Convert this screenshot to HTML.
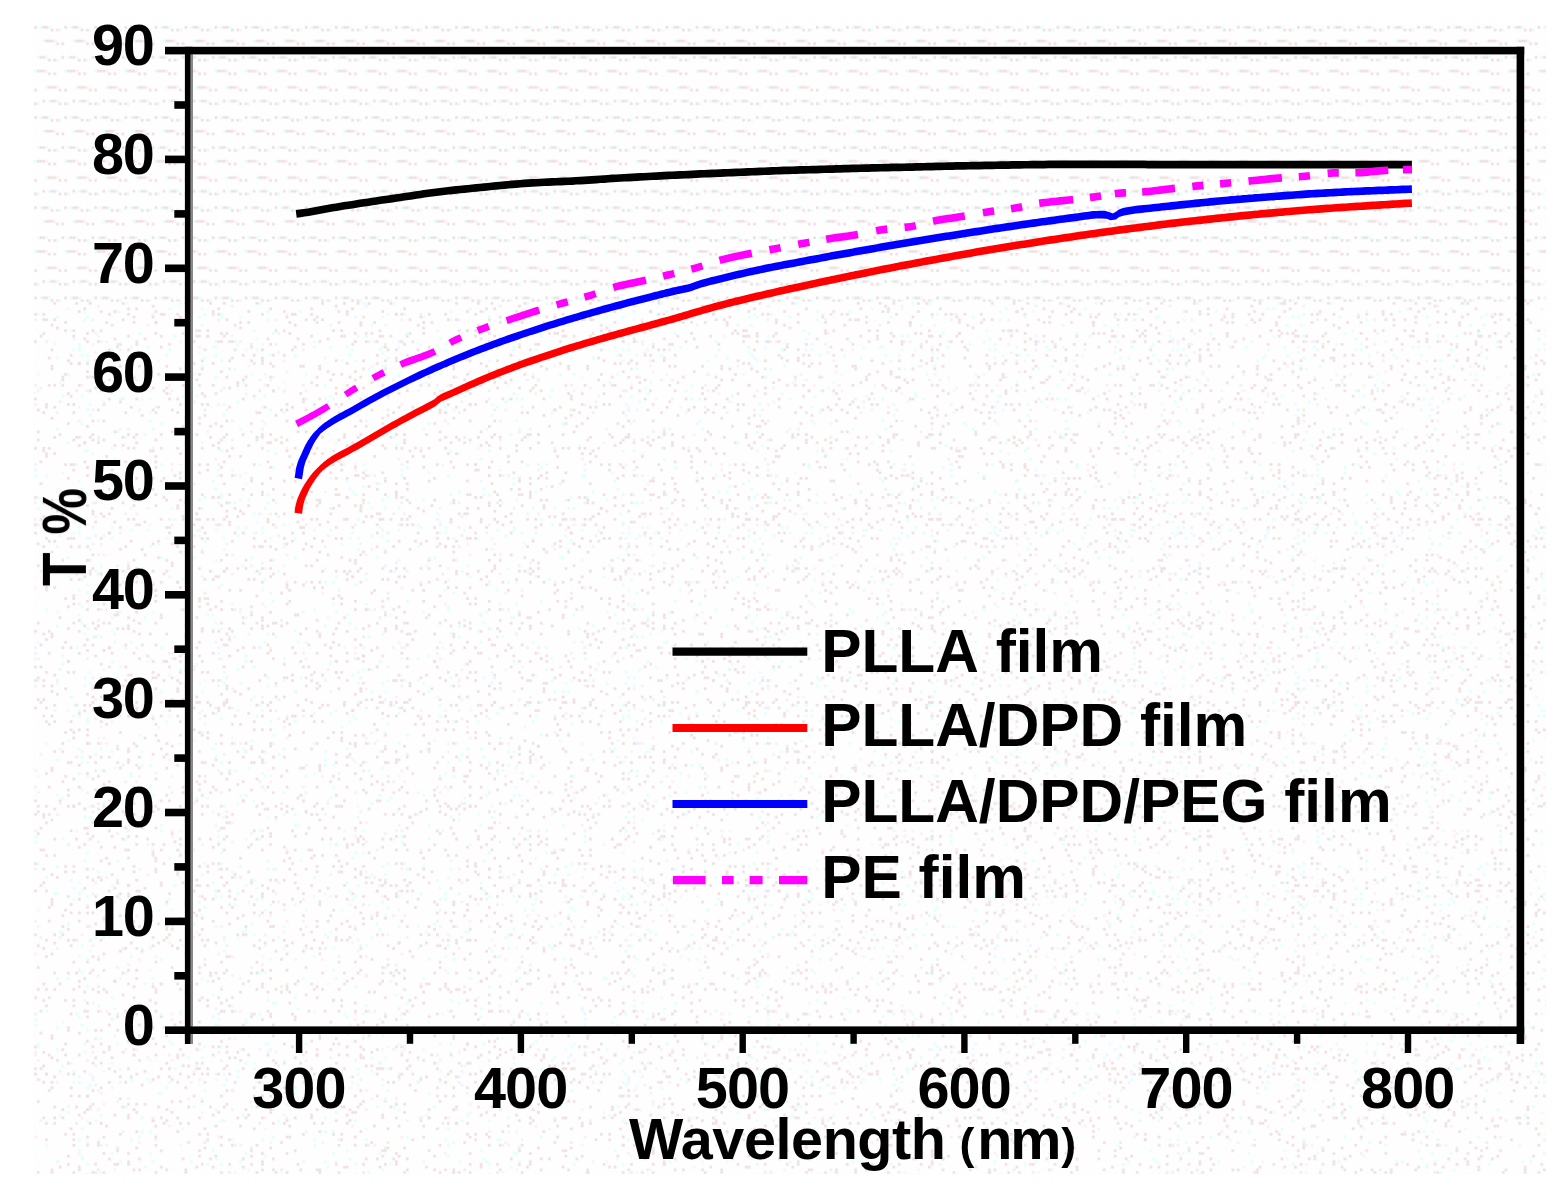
<!DOCTYPE html>
<html lang="en"><head><meta charset="utf-8"><title>Transmittance of PLLA films</title>
<style>html,body{margin:0;padding:0;background:#fff}body{width:1558px;height:1195px;overflow:hidden}svg{display:block}text{font-family:"Liberation Sans",Arial,Helvetica,sans-serif;font-weight:700;fill:#000}</style></head><body>
<svg width="1558" height="1195" viewBox="0 0 1558 1195">
<defs>
<pattern id="ditherA" width="183.131" height="183.131" patternUnits="userSpaceOnUse" x="34.2" y="23.2"><rect x="41.00" y="0.00" width="2.73" height="2.73" fill="#e6f4de"/><rect x="54.67" y="0.00" width="2.73" height="2.73" fill="#efe0e0"/><rect x="65.60" y="0.00" width="2.73" height="2.73" fill="#efe0e0"/><rect x="128.47" y="0.00" width="2.73" height="2.73" fill="#efe0e0"/><rect x="133.93" y="2.73" width="2.73" height="2.73" fill="#ffeeee"/><rect x="180.40" y="2.73" width="2.73" height="2.73" fill="#efe0e0"/><rect x="35.53" y="5.47" width="2.73" height="2.73" fill="#efe0e0"/><rect x="46.47" y="5.47" width="2.73" height="2.73" fill="#e0ffff"/><rect x="147.60" y="5.47" width="2.73" height="2.73" fill="#e0ffff"/><rect x="169.46" y="5.47" width="2.73" height="2.73" fill="#efe0e0"/><rect x="87.47" y="8.20" width="2.73" height="2.73" fill="#f0f0ff"/><rect x="101.13" y="8.20" width="2.73" height="2.73" fill="#efe0e0"/><rect x="106.60" y="8.20" width="2.73" height="2.73" fill="#e0ffff"/><rect x="114.80" y="8.20" width="2.73" height="2.73" fill="#e0ffff"/><rect x="142.13" y="8.20" width="2.73" height="2.73" fill="#efe0e0"/><rect x="84.73" y="10.93" width="2.73" height="2.73" fill="#efe0e0"/><rect x="0.00" y="13.67" width="2.73" height="2.73" fill="#ffeeee"/><rect x="68.33" y="13.67" width="2.73" height="2.73" fill="#efe0e0"/><rect x="10.93" y="16.40" width="2.73" height="2.73" fill="#efe0e0"/><rect x="43.73" y="16.40" width="2.73" height="2.73" fill="#e0ffff"/><rect x="95.67" y="16.40" width="2.73" height="2.73" fill="#e0ffff"/><rect x="120.27" y="16.40" width="2.73" height="2.73" fill="#f0f0ff"/><rect x="51.93" y="19.13" width="2.73" height="2.73" fill="#e0ffff"/><rect x="62.87" y="19.13" width="2.73" height="2.73" fill="#efe0e0"/><rect x="103.87" y="19.13" width="2.73" height="2.73" fill="#ffeeee"/><rect x="153.06" y="19.13" width="2.73" height="2.73" fill="#efe0e0"/><rect x="169.46" y="19.13" width="2.73" height="2.73" fill="#e6f4de"/><rect x="38.27" y="21.87" width="2.73" height="2.73" fill="#efe0e0"/><rect x="120.27" y="21.87" width="2.73" height="2.73" fill="#efe0e0"/><rect x="169.46" y="24.60" width="2.73" height="2.73" fill="#efe0e0"/><rect x="164.00" y="27.33" width="2.73" height="2.73" fill="#efe0e0"/><rect x="43.73" y="30.07" width="2.73" height="2.73" fill="#ffeeee"/><rect x="68.33" y="30.07" width="2.73" height="2.73" fill="#efe0e0"/><rect x="114.80" y="30.07" width="2.73" height="2.73" fill="#e0ffff"/><rect x="32.80" y="32.80" width="2.73" height="2.73" fill="#efe0e0"/><rect x="46.47" y="32.80" width="2.73" height="2.73" fill="#e0ffff"/><rect x="164.00" y="32.80" width="2.73" height="2.73" fill="#efe0e0"/><rect x="180.40" y="32.80" width="2.73" height="2.73" fill="#efe0e0"/><rect x="147.60" y="35.53" width="2.73" height="2.73" fill="#efe0e0"/><rect x="174.93" y="35.53" width="2.73" height="2.73" fill="#efe0e0"/><rect x="21.87" y="38.27" width="2.73" height="2.73" fill="#e0ffff"/><rect x="84.73" y="38.27" width="2.73" height="2.73" fill="#e0ffff"/><rect x="117.53" y="38.27" width="2.73" height="2.73" fill="#e0ffff"/><rect x="79.27" y="41.00" width="2.73" height="2.73" fill="#efe0e0"/><rect x="172.20" y="41.00" width="2.73" height="2.73" fill="#e0ffff"/><rect x="24.60" y="43.73" width="2.73" height="2.73" fill="#efe0e0"/><rect x="109.33" y="43.73" width="2.73" height="2.73" fill="#e0ffff"/><rect x="125.73" y="43.73" width="2.73" height="2.73" fill="#efe0e0"/><rect x="161.26" y="43.73" width="2.73" height="2.73" fill="#efe0e0"/><rect x="43.73" y="46.47" width="2.73" height="2.73" fill="#efe0e0"/><rect x="62.87" y="46.47" width="2.73" height="2.73" fill="#e6f4de"/><rect x="98.40" y="46.47" width="2.73" height="2.73" fill="#efe0e0"/><rect x="2.73" y="49.20" width="2.73" height="2.73" fill="#efe0e0"/><rect x="38.27" y="49.20" width="2.73" height="2.73" fill="#efe0e0"/><rect x="57.40" y="49.20" width="2.73" height="2.73" fill="#efe0e0"/><rect x="68.33" y="49.20" width="2.73" height="2.73" fill="#efe0e0"/><rect x="120.27" y="49.20" width="2.73" height="2.73" fill="#efe0e0"/><rect x="49.20" y="51.93" width="2.73" height="2.73" fill="#efe0e0"/><rect x="62.87" y="51.93" width="2.73" height="2.73" fill="#efe0e0"/><rect x="150.33" y="51.93" width="2.73" height="2.73" fill="#efe0e0"/><rect x="87.47" y="54.67" width="2.73" height="2.73" fill="#efe0e0"/><rect x="177.66" y="54.67" width="2.73" height="2.73" fill="#e0ffff"/><rect x="0.00" y="57.40" width="2.73" height="2.73" fill="#efe0e0"/><rect x="13.67" y="57.40" width="2.73" height="2.73" fill="#efe0e0"/><rect x="76.53" y="57.40" width="2.73" height="2.73" fill="#e0ffff"/><rect x="98.40" y="57.40" width="2.73" height="2.73" fill="#efe0e0"/><rect x="166.73" y="57.40" width="2.73" height="2.73" fill="#efe0e0"/><rect x="8.20" y="60.13" width="2.73" height="2.73" fill="#efe0e0"/><rect x="49.20" y="60.13" width="2.73" height="2.73" fill="#e0ffff"/><rect x="114.80" y="60.13" width="2.73" height="2.73" fill="#efe0e0"/><rect x="57.40" y="62.87" width="2.73" height="2.73" fill="#e0ffff"/><rect x="10.93" y="65.60" width="2.73" height="2.73" fill="#efe0e0"/><rect x="79.27" y="68.33" width="2.73" height="2.73" fill="#e0ffff"/><rect x="180.40" y="68.33" width="2.73" height="2.73" fill="#f0f0ff"/><rect x="5.47" y="71.07" width="2.73" height="2.73" fill="#efe0e0"/><rect x="49.20" y="71.07" width="2.73" height="2.73" fill="#efe0e0"/><rect x="90.20" y="71.07" width="2.73" height="2.73" fill="#efe0e0"/><rect x="106.60" y="71.07" width="2.73" height="2.73" fill="#efe0e0"/><rect x="120.27" y="71.07" width="2.73" height="2.73" fill="#efe0e0"/><rect x="0.00" y="73.80" width="2.73" height="2.73" fill="#f0f0ff"/><rect x="35.53" y="73.80" width="2.73" height="2.73" fill="#efe0e0"/><rect x="41.00" y="73.80" width="2.73" height="2.73" fill="#e0ffff"/><rect x="73.80" y="73.80" width="2.73" height="2.73" fill="#efe0e0"/><rect x="125.73" y="73.80" width="2.73" height="2.73" fill="#e0ffff"/><rect x="136.66" y="73.80" width="2.73" height="2.73" fill="#ffeeee"/><rect x="144.86" y="73.80" width="2.73" height="2.73" fill="#e0ffff"/><rect x="51.93" y="76.53" width="2.73" height="2.73" fill="#efe0e0"/><rect x="0.00" y="79.27" width="2.73" height="2.73" fill="#e0ffff"/><rect x="76.53" y="79.27" width="2.73" height="2.73" fill="#efe0e0"/><rect x="136.66" y="79.27" width="2.73" height="2.73" fill="#ffeeee"/><rect x="27.33" y="82.00" width="2.73" height="2.73" fill="#e0ffff"/><rect x="112.07" y="82.00" width="2.73" height="2.73" fill="#efe0e0"/><rect x="144.86" y="82.00" width="2.73" height="2.73" fill="#efe0e0"/><rect x="164.00" y="82.00" width="2.73" height="2.73" fill="#efe0e0"/><rect x="0.00" y="84.73" width="2.73" height="2.73" fill="#e0ffff"/><rect x="139.40" y="84.73" width="2.73" height="2.73" fill="#efe0e0"/><rect x="32.80" y="87.47" width="2.73" height="2.73" fill="#efe0e0"/><rect x="112.07" y="87.47" width="2.73" height="2.73" fill="#e0ffff"/><rect x="117.53" y="87.47" width="2.73" height="2.73" fill="#efe0e0"/><rect x="128.47" y="87.47" width="2.73" height="2.73" fill="#efe0e0"/><rect x="144.86" y="87.47" width="2.73" height="2.73" fill="#efe0e0"/><rect x="65.60" y="90.20" width="2.73" height="2.73" fill="#efe0e0"/><rect x="5.47" y="92.93" width="2.73" height="2.73" fill="#efe0e0"/><rect x="90.20" y="92.93" width="2.73" height="2.73" fill="#efe0e0"/><rect x="158.53" y="92.93" width="2.73" height="2.73" fill="#f0f0ff"/><rect x="144.86" y="95.67" width="2.73" height="2.73" fill="#e0ffff"/><rect x="150.33" y="95.67" width="2.73" height="2.73" fill="#efe0e0"/><rect x="117.53" y="98.40" width="2.73" height="2.73" fill="#efe0e0"/><rect x="92.93" y="101.13" width="2.73" height="2.73" fill="#efe0e0"/><rect x="133.93" y="101.13" width="2.73" height="2.73" fill="#e0ffff"/><rect x="49.20" y="103.87" width="2.73" height="2.73" fill="#e0ffff"/><rect x="65.60" y="103.87" width="2.73" height="2.73" fill="#efe0e0"/><rect x="82.00" y="103.87" width="2.73" height="2.73" fill="#e0ffff"/><rect x="120.27" y="103.87" width="2.73" height="2.73" fill="#efe0e0"/><rect x="0.00" y="106.60" width="2.73" height="2.73" fill="#efe0e0"/><rect x="2.73" y="106.60" width="2.73" height="2.73" fill="#e0ffff"/><rect x="73.80" y="106.60" width="2.73" height="2.73" fill="#efe0e0"/><rect x="128.47" y="106.60" width="2.73" height="2.73" fill="#efe0e0"/><rect x="169.46" y="106.60" width="2.73" height="2.73" fill="#e0ffff"/><rect x="177.66" y="106.60" width="2.73" height="2.73" fill="#efe0e0"/><rect x="21.87" y="109.33" width="2.73" height="2.73" fill="#e0ffff"/><rect x="98.40" y="109.33" width="2.73" height="2.73" fill="#efe0e0"/><rect x="144.86" y="109.33" width="2.73" height="2.73" fill="#efe0e0"/><rect x="164.00" y="109.33" width="2.73" height="2.73" fill="#e0ffff"/><rect x="0.00" y="112.07" width="2.73" height="2.73" fill="#f0f0ff"/><rect x="8.20" y="112.07" width="2.73" height="2.73" fill="#efe0e0"/><rect x="49.20" y="112.07" width="2.73" height="2.73" fill="#e0ffff"/><rect x="57.40" y="112.07" width="2.73" height="2.73" fill="#f0f0ff"/><rect x="87.47" y="112.07" width="2.73" height="2.73" fill="#efe0e0"/><rect x="30.07" y="114.80" width="2.73" height="2.73" fill="#efe0e0"/><rect x="98.40" y="114.80" width="2.73" height="2.73" fill="#efe0e0"/><rect x="120.27" y="114.80" width="2.73" height="2.73" fill="#efe0e0"/><rect x="142.13" y="114.80" width="2.73" height="2.73" fill="#efe0e0"/><rect x="16.40" y="117.53" width="2.73" height="2.73" fill="#efe0e0"/><rect x="76.53" y="117.53" width="2.73" height="2.73" fill="#efe0e0"/><rect x="112.07" y="117.53" width="2.73" height="2.73" fill="#f0f0ff"/><rect x="142.13" y="117.53" width="2.73" height="2.73" fill="#efe0e0"/><rect x="153.06" y="117.53" width="2.73" height="2.73" fill="#e0ffff"/><rect x="166.73" y="117.53" width="2.73" height="2.73" fill="#e0ffff"/><rect x="21.87" y="120.27" width="2.73" height="2.73" fill="#efe0e0"/><rect x="35.53" y="123.00" width="2.73" height="2.73" fill="#e0ffff"/><rect x="57.40" y="123.00" width="2.73" height="2.73" fill="#efe0e0"/><rect x="65.60" y="123.00" width="2.73" height="2.73" fill="#efe0e0"/><rect x="161.26" y="123.00" width="2.73" height="2.73" fill="#efe0e0"/><rect x="8.20" y="125.73" width="2.73" height="2.73" fill="#efe0e0"/><rect x="60.13" y="125.73" width="2.73" height="2.73" fill="#f0f0ff"/><rect x="147.60" y="125.73" width="2.73" height="2.73" fill="#efe0e0"/><rect x="153.06" y="125.73" width="2.73" height="2.73" fill="#efe0e0"/><rect x="5.47" y="128.47" width="2.73" height="2.73" fill="#efe0e0"/><rect x="92.93" y="128.47" width="2.73" height="2.73" fill="#efe0e0"/><rect x="125.73" y="128.47" width="2.73" height="2.73" fill="#efe0e0"/><rect x="139.40" y="128.47" width="2.73" height="2.73" fill="#e0ffff"/><rect x="161.26" y="128.47" width="2.73" height="2.73" fill="#efe0e0"/><rect x="164.00" y="128.47" width="2.73" height="2.73" fill="#efe0e0"/><rect x="172.20" y="128.47" width="2.73" height="2.73" fill="#efe0e0"/><rect x="38.27" y="131.20" width="2.73" height="2.73" fill="#e0ffff"/><rect x="49.20" y="131.20" width="2.73" height="2.73" fill="#efe0e0"/><rect x="79.27" y="131.20" width="2.73" height="2.73" fill="#efe0e0"/><rect x="109.33" y="131.20" width="2.73" height="2.73" fill="#efe0e0"/><rect x="0.00" y="133.93" width="2.73" height="2.73" fill="#efe0e0"/><rect x="10.93" y="133.93" width="2.73" height="2.73" fill="#efe0e0"/><rect x="101.13" y="133.93" width="2.73" height="2.73" fill="#efe0e0"/><rect x="158.53" y="133.93" width="2.73" height="2.73" fill="#efe0e0"/><rect x="180.40" y="133.93" width="2.73" height="2.73" fill="#f0f0ff"/><rect x="19.13" y="136.66" width="2.73" height="2.73" fill="#e0ffff"/><rect x="43.73" y="136.66" width="2.73" height="2.73" fill="#e0ffff"/><rect x="57.40" y="136.66" width="2.73" height="2.73" fill="#f0f0ff"/><rect x="84.73" y="136.66" width="2.73" height="2.73" fill="#efe0e0"/><rect x="133.93" y="136.66" width="2.73" height="2.73" fill="#efe0e0"/><rect x="95.67" y="139.40" width="2.73" height="2.73" fill="#e0ffff"/><rect x="112.07" y="139.40" width="2.73" height="2.73" fill="#e0ffff"/><rect x="164.00" y="139.40" width="2.73" height="2.73" fill="#ffeeee"/><rect x="180.40" y="139.40" width="2.73" height="2.73" fill="#e0ffff"/><rect x="16.40" y="142.13" width="2.73" height="2.73" fill="#efe0e0"/><rect x="38.27" y="142.13" width="2.73" height="2.73" fill="#e0ffff"/><rect x="43.73" y="142.13" width="2.73" height="2.73" fill="#e0ffff"/><rect x="73.80" y="142.13" width="2.73" height="2.73" fill="#efe0e0"/><rect x="84.73" y="142.13" width="2.73" height="2.73" fill="#f0f0ff"/><rect x="133.93" y="142.13" width="2.73" height="2.73" fill="#e0ffff"/><rect x="169.46" y="142.13" width="2.73" height="2.73" fill="#efe0e0"/><rect x="60.13" y="144.86" width="2.73" height="2.73" fill="#f0f0ff"/><rect x="164.00" y="144.86" width="2.73" height="2.73" fill="#e0ffff"/><rect x="35.53" y="147.60" width="2.73" height="2.73" fill="#efe0e0"/><rect x="51.93" y="147.60" width="2.73" height="2.73" fill="#e0ffff"/><rect x="65.60" y="147.60" width="2.73" height="2.73" fill="#efe0e0"/><rect x="76.53" y="147.60" width="2.73" height="2.73" fill="#e0ffff"/><rect x="131.20" y="147.60" width="2.73" height="2.73" fill="#e0ffff"/><rect x="13.67" y="150.33" width="2.73" height="2.73" fill="#efe0e0"/><rect x="169.46" y="150.33" width="2.73" height="2.73" fill="#e0ffff"/><rect x="65.60" y="153.06" width="2.73" height="2.73" fill="#ffeeee"/><rect x="123.00" y="153.06" width="2.73" height="2.73" fill="#e0ffff"/><rect x="35.53" y="155.80" width="2.73" height="2.73" fill="#efe0e0"/><rect x="43.73" y="155.80" width="2.73" height="2.73" fill="#efe0e0"/><rect x="51.93" y="155.80" width="2.73" height="2.73" fill="#efe0e0"/><rect x="158.53" y="155.80" width="2.73" height="2.73" fill="#efe0e0"/><rect x="84.73" y="158.53" width="2.73" height="2.73" fill="#efe0e0"/><rect x="153.06" y="158.53" width="2.73" height="2.73" fill="#ffeeee"/><rect x="166.73" y="158.53" width="2.73" height="2.73" fill="#e0ffff"/><rect x="144.86" y="161.26" width="2.73" height="2.73" fill="#efe0e0"/><rect x="166.73" y="161.26" width="2.73" height="2.73" fill="#efe0e0"/><rect x="68.33" y="164.00" width="2.73" height="2.73" fill="#ffeeee"/><rect x="109.33" y="164.00" width="2.73" height="2.73" fill="#efe0e0"/><rect x="32.80" y="166.73" width="2.73" height="2.73" fill="#e0ffff"/><rect x="123.00" y="166.73" width="2.73" height="2.73" fill="#efe0e0"/><rect x="158.53" y="166.73" width="2.73" height="2.73" fill="#e0ffff"/><rect x="27.33" y="169.46" width="2.73" height="2.73" fill="#efe0e0"/><rect x="51.93" y="169.46" width="2.73" height="2.73" fill="#efe0e0"/><rect x="54.67" y="169.46" width="2.73" height="2.73" fill="#f0f0ff"/><rect x="98.40" y="169.46" width="2.73" height="2.73" fill="#efe0e0"/><rect x="131.20" y="169.46" width="2.73" height="2.73" fill="#efe0e0"/><rect x="180.40" y="169.46" width="2.73" height="2.73" fill="#e0ffff"/><rect x="136.66" y="172.20" width="2.73" height="2.73" fill="#efe0e0"/><rect x="24.60" y="174.93" width="2.73" height="2.73" fill="#e0ffff"/><rect x="65.60" y="174.93" width="2.73" height="2.73" fill="#e0ffff"/><rect x="92.93" y="174.93" width="2.73" height="2.73" fill="#efe0e0"/><rect x="19.13" y="177.66" width="2.73" height="2.73" fill="#efe0e0"/><rect x="27.33" y="177.66" width="2.73" height="2.73" fill="#efe0e0"/><rect x="46.47" y="177.66" width="2.73" height="2.73" fill="#ffeeee"/><rect x="106.60" y="177.66" width="2.73" height="2.73" fill="#e0ffff"/><rect x="164.00" y="177.66" width="2.73" height="2.73" fill="#efe0e0"/><rect x="5.47" y="180.40" width="2.73" height="2.73" fill="#f0f0ff"/><rect x="60.13" y="180.40" width="2.73" height="2.73" fill="#e0ffff"/><rect x="117.53" y="180.40" width="2.73" height="2.73" fill="#efe0e0"/><rect x="131.20" y="180.40" width="2.73" height="2.73" fill="#efe0e0"/></pattern>
<pattern id="ditherB" width="133.932" height="133.932" patternUnits="userSpaceOnUse" x="34.2" y="23.2"><rect x="51.93" y="0.00" width="2.73" height="2.73" fill="#efe0e0"/><rect x="92.93" y="2.73" width="2.73" height="2.73" fill="#f0f0ff"/><rect x="2.73" y="5.47" width="2.73" height="2.73" fill="#efe0e0"/><rect x="82.00" y="5.47" width="2.73" height="2.73" fill="#f0f0ff"/><rect x="57.40" y="8.20" width="2.73" height="2.73" fill="#efe0e0"/><rect x="92.93" y="8.20" width="2.73" height="2.73" fill="#efe0e0"/><rect x="101.13" y="8.20" width="2.73" height="2.73" fill="#efe0e0"/><rect x="19.13" y="10.93" width="2.73" height="2.73" fill="#efe0e0"/><rect x="41.00" y="10.93" width="2.73" height="2.73" fill="#efe0e0"/><rect x="54.67" y="10.93" width="2.73" height="2.73" fill="#efe0e0"/><rect x="87.47" y="10.93" width="2.73" height="2.73" fill="#efe0e0"/><rect x="90.20" y="10.93" width="2.73" height="2.73" fill="#e0ffff"/><rect x="62.87" y="13.67" width="2.73" height="2.73" fill="#f0f0ff"/><rect x="32.80" y="16.40" width="2.73" height="2.73" fill="#e0ffff"/><rect x="49.20" y="16.40" width="2.73" height="2.73" fill="#efe0e0"/><rect x="101.13" y="16.40" width="2.73" height="2.73" fill="#efe0e0"/><rect x="43.73" y="19.13" width="2.73" height="2.73" fill="#efe0e0"/><rect x="79.27" y="19.13" width="2.73" height="2.73" fill="#efe0e0"/><rect x="8.20" y="21.87" width="2.73" height="2.73" fill="#efe0e0"/><rect x="92.93" y="21.87" width="2.73" height="2.73" fill="#efe0e0"/><rect x="117.53" y="21.87" width="2.73" height="2.73" fill="#ffeeee"/><rect x="125.73" y="21.87" width="2.73" height="2.73" fill="#efe0e0"/><rect x="51.93" y="24.60" width="2.73" height="2.73" fill="#e0ffff"/><rect x="117.53" y="24.60" width="2.73" height="2.73" fill="#efe0e0"/><rect x="10.93" y="27.33" width="2.73" height="2.73" fill="#efe0e0"/><rect x="19.13" y="27.33" width="2.73" height="2.73" fill="#efe0e0"/><rect x="71.07" y="30.07" width="2.73" height="2.73" fill="#efe0e0"/><rect x="120.27" y="30.07" width="2.73" height="2.73" fill="#efe0e0"/><rect x="30.07" y="38.27" width="2.73" height="2.73" fill="#efe0e0"/><rect x="38.27" y="38.27" width="2.73" height="2.73" fill="#efe0e0"/><rect x="51.93" y="41.00" width="2.73" height="2.73" fill="#efe0e0"/><rect x="103.87" y="41.00" width="2.73" height="2.73" fill="#e0ffff"/><rect x="120.27" y="41.00" width="2.73" height="2.73" fill="#efe0e0"/><rect x="38.27" y="43.73" width="2.73" height="2.73" fill="#efe0e0"/><rect x="62.87" y="43.73" width="2.73" height="2.73" fill="#e0ffff"/><rect x="10.93" y="49.20" width="2.73" height="2.73" fill="#e0ffff"/><rect x="51.93" y="49.20" width="2.73" height="2.73" fill="#efe0e0"/><rect x="62.87" y="49.20" width="2.73" height="2.73" fill="#efe0e0"/><rect x="65.60" y="49.20" width="2.73" height="2.73" fill="#f0f0ff"/><rect x="71.07" y="49.20" width="2.73" height="2.73" fill="#ffeeee"/><rect x="82.00" y="51.93" width="2.73" height="2.73" fill="#e6f4de"/><rect x="101.13" y="51.93" width="2.73" height="2.73" fill="#efe0e0"/><rect x="43.73" y="54.67" width="2.73" height="2.73" fill="#e0ffff"/><rect x="82.00" y="54.67" width="2.73" height="2.73" fill="#efe0e0"/><rect x="125.73" y="54.67" width="2.73" height="2.73" fill="#efe0e0"/><rect x="76.53" y="57.40" width="2.73" height="2.73" fill="#e0ffff"/><rect x="92.93" y="57.40" width="2.73" height="2.73" fill="#efe0e0"/><rect x="46.47" y="62.87" width="2.73" height="2.73" fill="#e0ffff"/><rect x="73.80" y="62.87" width="2.73" height="2.73" fill="#efe0e0"/><rect x="103.87" y="62.87" width="2.73" height="2.73" fill="#efe0e0"/><rect x="21.87" y="65.60" width="2.73" height="2.73" fill="#e0ffff"/><rect x="92.93" y="65.60" width="2.73" height="2.73" fill="#efe0e0"/><rect x="32.80" y="68.33" width="2.73" height="2.73" fill="#efe0e0"/><rect x="51.93" y="68.33" width="2.73" height="2.73" fill="#e0ffff"/><rect x="60.13" y="68.33" width="2.73" height="2.73" fill="#efe0e0"/><rect x="82.00" y="68.33" width="2.73" height="2.73" fill="#efe0e0"/><rect x="92.93" y="68.33" width="2.73" height="2.73" fill="#efe0e0"/><rect x="43.73" y="71.07" width="2.73" height="2.73" fill="#efe0e0"/><rect x="16.40" y="73.80" width="2.73" height="2.73" fill="#efe0e0"/><rect x="79.27" y="73.80" width="2.73" height="2.73" fill="#e0ffff"/><rect x="103.87" y="73.80" width="2.73" height="2.73" fill="#efe0e0"/><rect x="131.20" y="73.80" width="2.73" height="2.73" fill="#efe0e0"/><rect x="16.40" y="76.53" width="2.73" height="2.73" fill="#efe0e0"/><rect x="60.13" y="76.53" width="2.73" height="2.73" fill="#e6f4de"/><rect x="65.60" y="76.53" width="2.73" height="2.73" fill="#e0ffff"/><rect x="51.93" y="79.27" width="2.73" height="2.73" fill="#efe0e0"/><rect x="2.73" y="82.00" width="2.73" height="2.73" fill="#e0ffff"/><rect x="30.07" y="82.00" width="2.73" height="2.73" fill="#efe0e0"/><rect x="95.67" y="82.00" width="2.73" height="2.73" fill="#e0ffff"/><rect x="57.40" y="84.73" width="2.73" height="2.73" fill="#efe0e0"/><rect x="27.33" y="87.47" width="2.73" height="2.73" fill="#efe0e0"/><rect x="73.80" y="87.47" width="2.73" height="2.73" fill="#efe0e0"/><rect x="90.20" y="87.47" width="2.73" height="2.73" fill="#f0f0ff"/><rect x="101.13" y="87.47" width="2.73" height="2.73" fill="#ffeeee"/><rect x="68.33" y="90.20" width="2.73" height="2.73" fill="#efe0e0"/><rect x="0.00" y="92.93" width="2.73" height="2.73" fill="#f0f0ff"/><rect x="13.67" y="92.93" width="2.73" height="2.73" fill="#efe0e0"/><rect x="43.73" y="92.93" width="2.73" height="2.73" fill="#efe0e0"/><rect x="98.40" y="92.93" width="2.73" height="2.73" fill="#efe0e0"/><rect x="60.13" y="95.67" width="2.73" height="2.73" fill="#efe0e0"/><rect x="2.73" y="98.40" width="2.73" height="2.73" fill="#ffeeee"/><rect x="51.93" y="98.40" width="2.73" height="2.73" fill="#f0f0ff"/><rect x="103.87" y="98.40" width="2.73" height="2.73" fill="#efe0e0"/><rect x="114.80" y="98.40" width="2.73" height="2.73" fill="#e0ffff"/><rect x="32.80" y="101.13" width="2.73" height="2.73" fill="#efe0e0"/><rect x="76.53" y="101.13" width="2.73" height="2.73" fill="#e0ffff"/><rect x="131.20" y="101.13" width="2.73" height="2.73" fill="#efe0e0"/><rect x="27.33" y="103.87" width="2.73" height="2.73" fill="#e0ffff"/><rect x="0.00" y="106.60" width="2.73" height="2.73" fill="#efe0e0"/><rect x="73.80" y="106.60" width="2.73" height="2.73" fill="#efe0e0"/><rect x="84.73" y="106.60" width="2.73" height="2.73" fill="#e0ffff"/><rect x="24.60" y="109.33" width="2.73" height="2.73" fill="#f0f0ff"/><rect x="68.33" y="109.33" width="2.73" height="2.73" fill="#e0ffff"/><rect x="10.93" y="112.07" width="2.73" height="2.73" fill="#efe0e0"/><rect x="32.80" y="112.07" width="2.73" height="2.73" fill="#efe0e0"/><rect x="38.27" y="112.07" width="2.73" height="2.73" fill="#efe0e0"/><rect x="54.67" y="112.07" width="2.73" height="2.73" fill="#e0ffff"/><rect x="19.13" y="114.80" width="2.73" height="2.73" fill="#efe0e0"/><rect x="95.67" y="114.80" width="2.73" height="2.73" fill="#efe0e0"/><rect x="123.00" y="114.80" width="2.73" height="2.73" fill="#efe0e0"/><rect x="2.73" y="117.53" width="2.73" height="2.73" fill="#efe0e0"/><rect x="57.40" y="117.53" width="2.73" height="2.73" fill="#f0f0ff"/><rect x="117.53" y="117.53" width="2.73" height="2.73" fill="#efe0e0"/><rect x="8.20" y="120.27" width="2.73" height="2.73" fill="#efe0e0"/><rect x="21.87" y="120.27" width="2.73" height="2.73" fill="#f0f0ff"/><rect x="90.20" y="120.27" width="2.73" height="2.73" fill="#efe0e0"/><rect x="114.80" y="120.27" width="2.73" height="2.73" fill="#e0ffff"/><rect x="54.67" y="123.00" width="2.73" height="2.73" fill="#e0ffff"/><rect x="106.60" y="123.00" width="2.73" height="2.73" fill="#efe0e0"/><rect x="16.40" y="125.73" width="2.73" height="2.73" fill="#efe0e0"/><rect x="57.40" y="128.47" width="2.73" height="2.73" fill="#efe0e0"/><rect x="62.87" y="128.47" width="2.73" height="2.73" fill="#ffeeee"/><rect x="125.73" y="131.20" width="2.73" height="2.73" fill="#e0ffff"/></pattern>
<pattern id="ditherS" width="30.066" height="90.199" patternUnits="userSpaceOnUse" x="34.2" y="25.93"><rect x="0.00" y="0.00" width="2.73" height="2.73" fill="#efe0e0"/><rect x="5.47" y="0.00" width="2.73" height="2.73" fill="#e0ffff"/><rect x="8.20" y="0.00" width="2.73" height="2.73" fill="#efe0e0"/><rect x="10.93" y="0.00" width="2.73" height="2.73" fill="#efe0e0"/><rect x="13.67" y="0.00" width="2.73" height="2.73" fill="#e0ffff"/><rect x="16.40" y="2.73" width="2.73" height="2.73" fill="#efe0e0"/><rect x="21.87" y="2.73" width="2.73" height="2.73" fill="#efe0e0"/><rect x="24.60" y="2.73" width="2.73" height="2.73" fill="#e0ffff"/><rect x="8.20" y="13.67" width="2.73" height="2.73" fill="#e0ffff"/><rect x="10.93" y="13.67" width="2.73" height="2.73" fill="#efe0e0"/><rect x="13.67" y="13.67" width="2.73" height="2.73" fill="#efe0e0"/><rect x="16.40" y="13.67" width="2.73" height="2.73" fill="#efe0e0"/><rect x="19.13" y="13.67" width="2.73" height="2.73" fill="#ffeeee"/><rect x="21.87" y="16.40" width="2.73" height="2.73" fill="#efe0e0"/><rect x="27.33" y="16.40" width="2.73" height="2.73" fill="#efe0e0"/><rect x="27.33" y="30.07" width="2.73" height="2.73" fill="#efe0e0"/><rect x="2.73" y="30.07" width="2.73" height="2.73" fill="#e0ffff"/><rect x="5.47" y="30.07" width="2.73" height="2.73" fill="#efe0e0"/><rect x="8.20" y="30.07" width="2.73" height="2.73" fill="#efe0e0"/><rect x="10.93" y="30.07" width="2.73" height="2.73" fill="#e0ffff"/><rect x="13.67" y="32.80" width="2.73" height="2.73" fill="#efe0e0"/><rect x="19.13" y="32.80" width="2.73" height="2.73" fill="#efe0e0"/><rect x="21.87" y="32.80" width="2.73" height="2.73" fill="#e0ffff"/><rect x="0.00" y="43.73" width="2.73" height="2.73" fill="#e0ffff"/><rect x="2.73" y="43.73" width="2.73" height="2.73" fill="#efe0e0"/><rect x="5.47" y="43.73" width="2.73" height="2.73" fill="#efe0e0"/><rect x="8.20" y="43.73" width="2.73" height="2.73" fill="#efe0e0"/><rect x="10.93" y="43.73" width="2.73" height="2.73" fill="#ffeeee"/><rect x="13.67" y="46.47" width="2.73" height="2.73" fill="#efe0e0"/><rect x="19.13" y="46.47" width="2.73" height="2.73" fill="#efe0e0"/><rect x="10.93" y="60.13" width="2.73" height="2.73" fill="#e0ffff"/><rect x="13.67" y="60.13" width="2.73" height="2.73" fill="#efe0e0"/><rect x="16.40" y="60.13" width="2.73" height="2.73" fill="#efe0e0"/><rect x="19.13" y="60.13" width="2.73" height="2.73" fill="#efe0e0"/><rect x="21.87" y="60.13" width="2.73" height="2.73" fill="#ffeeee"/><rect x="24.60" y="62.87" width="2.73" height="2.73" fill="#efe0e0"/><rect x="0.00" y="62.87" width="2.73" height="2.73" fill="#efe0e0"/><rect x="8.20" y="73.80" width="2.73" height="2.73" fill="#efe0e0"/><rect x="13.67" y="73.80" width="2.73" height="2.73" fill="#e0ffff"/><rect x="16.40" y="73.80" width="2.73" height="2.73" fill="#efe0e0"/><rect x="19.13" y="73.80" width="2.73" height="2.73" fill="#efe0e0"/><rect x="21.87" y="73.80" width="2.73" height="2.73" fill="#e0ffff"/><rect x="24.60" y="76.53" width="2.73" height="2.73" fill="#efe0e0"/><rect x="0.00" y="76.53" width="2.73" height="2.73" fill="#efe0e0"/><rect x="2.73" y="76.53" width="2.73" height="2.73" fill="#e0ffff"/></pattern>
<filter id="soft" x="-2%" y="-2%" width="104%" height="104%"><feGaussianBlur stdDeviation="0.55"/></filter><filter id="soft2" x="0" y="0" width="100%" height="100%"><feGaussianBlur stdDeviation="0.5"/></filter></defs>
<rect x="0" y="0" width="1558" height="1195" fill="#ffffff"/>
<g filter="url(#soft2)">
<rect x="34" y="23" width="1512" height="1151" fill="#fffefe"/>
<rect x="34" y="23" width="1512" height="279" fill="url(#ditherS)"/>
<rect x="34" y="302" width="1512" height="872" fill="url(#ditherA)"/>
<rect x="34" y="302" width="1512" height="872" fill="url(#ditherB)"/>
</g>
<g filter="url(#soft)">
<path fill="#000000" d="M296.7,217.7 L300.7,217.2 L304.8,216.6 L308.8,215.9 L312.9,215.2 L316.9,214.5 L320.9,213.7 L324.9,213.0 L328.8,212.3 L332.8,211.6 L336.8,211.0 L340.8,210.3 L344.8,209.6 L348.8,209.0 L352.8,208.4 L356.8,207.7 L360.8,207.1 L364.8,206.5 L368.8,205.9 L372.8,205.3 L376.8,204.7 L380.8,204.1 L384.8,203.6 L388.8,203.0 L392.8,202.4 L396.8,201.8 L400.7,201.2 L404.8,200.6 L408.8,200.0 L412.8,199.4 L416.8,198.8 L420.8,198.2 L424.8,197.6 L428.7,197.0 L432.7,196.5 L436.7,196.0 L440.7,195.5 L444.6,195.1 L448.6,194.6 L452.6,194.2 L456.6,193.7 L460.6,193.3 L464.6,192.9 L468.6,192.5 L472.6,192.1 L476.6,191.7 L480.6,191.3 L484.6,190.9 L488.6,190.5 L492.6,190.1 L496.6,189.7 L500.6,189.3 L504.6,188.9 L508.5,188.6 L512.5,188.2 L516.5,187.9 L520.5,187.6 L524.5,187.3 L528.4,187.0 L532.4,186.8 L536.4,186.6 L540.4,186.3 L544.4,186.1 L548.4,186.0 L552.4,185.8 L556.4,185.6 L560.4,185.4 L564.4,185.2 L568.4,185.1 L572.4,184.9 L576.4,184.6 L580.4,184.4 L584.4,184.2 L588.4,183.9 L592.5,183.7 L596.5,183.4 L600.5,183.1 L604.5,182.9 L608.5,182.6 L612.4,182.3 L616.4,182.1 L620.4,181.8 L624.4,181.6 L628.4,181.4 L632.4,181.2 L636.4,181.0 L640.4,180.7 L644.4,180.5 L648.4,180.3 L652.4,180.1 L656.4,179.9 L660.4,179.7 L664.4,179.5 L668.4,179.3 L672.4,179.1 L676.4,178.9 L680.4,178.7 L684.4,178.5 L688.4,178.4 L692.4,178.2 L696.4,178.0 L700.4,177.8 L704.4,177.6 L708.4,177.4 L712.4,177.3 L716.4,177.1 L720.4,176.9 L724.4,176.7 L728.4,176.6 L732.4,176.4 L736.4,176.2 L740.4,176.1 L744.4,175.9 L748.4,175.7 L752.4,175.6 L756.4,175.4 L760.4,175.2 L764.4,175.0 L768.4,174.9 L772.3,174.7 L776.3,174.6 L780.3,174.4 L784.3,174.3 L788.3,174.2 L792.3,174.1 L796.3,173.9 L800.3,173.8 L804.3,173.7 L808.3,173.6 L812.3,173.5 L816.3,173.4 L820.3,173.2 L824.3,173.1 L828.3,173.0 L832.3,172.9 L836.3,172.8 L840.3,172.7 L844.3,172.5 L848.3,172.4 L852.3,172.3 L856.3,172.2 L860.3,172.1 L864.3,172.0 L868.3,171.9 L872.3,171.8 L876.3,171.7 L880.3,171.6 L884.3,171.5 L888.3,171.4 L892.3,171.3 L896.3,171.3 L900.3,171.2 L904.3,171.1 L908.3,171.0 L912.3,170.9 L916.3,170.8 L920.3,170.7 L924.3,170.6 L928.3,170.5 L932.3,170.4 L936.3,170.3 L940.3,170.2 L944.3,170.1 L948.3,170.0 L952.3,169.9 L956.3,169.8 L960.3,169.7 L964.3,169.7 L968.3,169.6 L972.3,169.5 L976.3,169.4 L980.3,169.4 L984.3,169.3 L988.3,169.2 L992.3,169.2 L996.3,169.1 L1000.3,169.0 L1004.3,168.9 L1008.3,168.9 L1012.3,168.8 L1016.3,168.7 L1020.3,168.7 L1024.3,168.6 L1028.3,168.6 L1032.2,168.5 L1036.2,168.5 L1040.2,168.4 L1044.2,168.4 L1048.2,168.3 L1052.2,168.3 L1056.2,168.3 L1060.2,168.3 L1064.2,168.3 L1068.2,168.3 L1072.2,168.3 L1076.2,168.3 L1080.2,168.3 L1084.2,168.3 L1088.2,168.3 L1092.2,168.3 L1096.2,168.3 L1100.2,168.3 L1104.2,168.3 L1108.2,168.3 L1112.2,168.3 L1116.2,168.3 L1120.2,168.3 L1124.2,168.3 L1128.2,168.3 L1132.2,168.3 L1136.2,168.3 L1140.2,168.3 L1144.2,168.3 L1148.2,168.4 L1152.2,168.4 L1156.2,168.4 L1160.2,168.4 L1164.2,168.4 L1168.2,168.4 L1172.2,168.4 L1176.2,168.4 L1180.2,168.4 L1184.2,168.4 L1188.2,168.4 L1192.2,168.4 L1196.2,168.4 L1200.2,168.4 L1204.2,168.4 L1208.2,168.4 L1212.2,168.5 L1216.2,168.5 L1220.2,168.5 L1224.2,168.5 L1228.2,168.5 L1232.2,168.5 L1236.2,168.5 L1240.2,168.5 L1244.2,168.5 L1248.2,168.5 L1252.2,168.5 L1256.2,168.5 L1260.2,168.5 L1264.2,168.5 L1268.2,168.5 L1272.2,168.5 L1276.2,168.5 L1280.2,168.5 L1284.2,168.5 L1288.2,168.5 L1292.2,168.5 L1296.2,168.5 L1300.2,168.5 L1304.2,168.5 L1308.2,168.5 L1312.2,168.5 L1316.2,168.5 L1320.2,168.5 L1324.2,168.5 L1328.2,168.5 L1332.2,168.5 L1336.2,168.5 L1340.2,168.5 L1344.2,168.5 L1348.2,168.5 L1352.2,168.5 L1356.2,168.5 L1360.2,168.5 L1364.2,168.5 L1368.2,168.5 L1372.2,168.5 L1376.2,168.5 L1380.2,168.5 L1384.2,168.5 L1388.2,168.5 L1392.2,168.5 L1396.2,168.5 L1400.2,168.5 L1404.2,168.5 L1408.2,168.5 L1411.9,168.5 L1411.9,160.8 L1408.2,160.8 L1404.2,160.8 L1400.2,160.8 L1396.2,160.8 L1392.2,160.8 L1388.2,160.8 L1384.2,160.8 L1380.2,160.8 L1376.2,160.8 L1372.2,160.8 L1368.2,160.8 L1364.2,160.8 L1360.2,160.8 L1356.2,160.8 L1352.2,160.8 L1348.2,160.8 L1344.2,160.8 L1340.2,160.8 L1336.2,160.8 L1332.2,160.8 L1328.2,160.8 L1324.2,160.8 L1320.2,160.8 L1316.2,160.8 L1312.2,160.8 L1308.2,160.8 L1304.2,160.8 L1300.2,160.8 L1296.2,160.8 L1292.2,160.8 L1288.2,160.8 L1284.2,160.8 L1280.2,160.8 L1276.2,160.8 L1272.2,160.8 L1268.2,160.8 L1264.2,160.8 L1260.2,160.8 L1256.2,160.8 L1252.2,160.8 L1248.2,160.8 L1244.2,160.8 L1240.2,160.8 L1236.2,160.8 L1232.2,160.8 L1228.2,160.8 L1224.2,160.8 L1220.2,160.8 L1216.2,160.8 L1212.2,160.8 L1208.2,160.7 L1204.2,160.7 L1200.2,160.7 L1196.2,160.7 L1192.2,160.7 L1188.2,160.7 L1184.2,160.7 L1180.2,160.7 L1176.2,160.7 L1172.2,160.7 L1168.2,160.7 L1164.2,160.7 L1160.2,160.7 L1156.2,160.7 L1152.2,160.7 L1148.2,160.7 L1144.2,160.6 L1140.2,160.6 L1136.2,160.6 L1132.2,160.6 L1128.2,160.6 L1124.2,160.6 L1120.2,160.6 L1116.2,160.6 L1112.2,160.6 L1108.2,160.6 L1104.2,160.6 L1100.2,160.6 L1096.2,160.6 L1092.2,160.6 L1088.2,160.6 L1084.2,160.6 L1080.2,160.6 L1076.2,160.6 L1072.2,160.6 L1068.2,160.6 L1064.2,160.6 L1060.2,160.6 L1056.2,160.6 L1052.2,160.6 L1048.2,160.6 L1044.2,160.7 L1040.2,160.7 L1036.2,160.8 L1032.2,160.8 L1028.1,160.9 L1024.1,160.9 L1020.1,161.0 L1016.1,161.0 L1012.1,161.1 L1008.1,161.2 L1004.1,161.2 L1000.1,161.3 L996.1,161.4 L992.1,161.5 L988.1,161.5 L984.1,161.6 L980.1,161.7 L976.1,161.7 L972.1,161.8 L968.1,161.9 L964.1,162.0 L960.1,162.0 L956.1,162.1 L952.1,162.2 L948.1,162.3 L944.1,162.4 L940.1,162.5 L936.1,162.6 L932.1,162.7 L928.1,162.8 L924.1,162.9 L920.1,163.0 L916.1,163.1 L912.1,163.2 L908.1,163.3 L904.1,163.4 L900.1,163.5 L896.1,163.6 L892.1,163.6 L888.1,163.7 L884.1,163.8 L880.1,163.9 L876.1,164.0 L872.1,164.1 L868.1,164.2 L864.1,164.3 L860.1,164.4 L856.1,164.5 L852.1,164.6 L848.1,164.7 L844.1,164.8 L840.1,165.0 L836.1,165.1 L832.1,165.2 L828.1,165.3 L824.1,165.4 L820.1,165.6 L816.1,165.7 L812.1,165.8 L808.1,165.9 L804.1,166.0 L800.1,166.1 L796.1,166.3 L792.1,166.4 L788.1,166.5 L784.1,166.6 L780.1,166.7 L776.1,166.9 L772.1,167.0 L768.0,167.2 L764.0,167.4 L760.0,167.5 L756.0,167.7 L752.0,167.9 L748.0,168.0 L744.0,168.2 L740.0,168.4 L736.0,168.5 L732.0,168.7 L728.0,168.9 L724.0,169.1 L720.0,169.2 L716.0,169.4 L712.0,169.6 L708.0,169.8 L704.0,169.9 L700.0,170.1 L696.0,170.3 L692.0,170.5 L688.0,170.7 L684.0,170.9 L680.0,171.0 L676.0,171.2 L672.0,171.4 L668.0,171.6 L664.0,171.8 L660.0,172.0 L656.0,172.2 L652.0,172.4 L648.0,172.7 L644.0,172.9 L640.0,173.1 L636.0,173.3 L632.0,173.5 L628.0,173.7 L624.0,173.9 L620.0,174.2 L616.0,174.4 L612.0,174.6 L607.9,174.9 L603.9,175.2 L599.9,175.5 L595.9,175.7 L591.9,176.0 L588.0,176.3 L584.0,176.5 L580.0,176.8 L576.0,177.0 L572.0,177.2 L568.0,177.4 L564.0,177.6 L560.0,177.7 L556.0,177.9 L552.0,178.1 L548.0,178.3 L544.0,178.5 L540.0,178.7 L536.0,178.9 L532.0,179.1 L528.0,179.3 L523.9,179.6 L519.9,179.9 L515.9,180.2 L511.9,180.6 L507.9,180.9 L503.8,181.3 L499.8,181.7 L495.8,182.1 L491.8,182.5 L487.8,182.9 L483.8,183.3 L479.8,183.7 L475.8,184.1 L471.8,184.5 L467.8,184.9 L463.8,185.3 L459.8,185.7 L455.8,186.1 L451.8,186.6 L447.8,187.0 L443.8,187.5 L439.7,187.9 L435.7,188.4 L431.7,188.9 L427.7,189.5 L423.6,190.0 L419.6,190.7 L415.6,191.3 L411.6,191.9 L407.6,192.5 L403.6,193.1 L399.7,193.7 L395.6,194.3 L391.6,194.8 L387.6,195.4 L383.6,196.0 L379.6,196.6 L375.6,197.2 L371.6,197.8 L367.6,198.4 L363.6,199.0 L359.6,199.6 L355.6,200.2 L351.6,200.9 L347.6,201.5 L343.6,202.1 L339.6,202.8 L335.6,203.5 L331.6,204.1 L327.6,204.8 L323.5,205.5 L319.5,206.3 L315.5,207.0 L311.5,207.7 L307.6,208.4 L303.6,209.1 L299.7,209.6 L295.7,210.1Z"/>
<path fill="#ff0000" d="M302.1,513.7 L302.3,511.7 L302.6,509.8 L302.8,508.0 L303.0,506.7 L303.2,505.7 L303.4,504.7 L303.6,503.8 L303.9,503.0 L304.1,502.2 L304.3,501.4 L304.5,500.7 L304.7,500.1 L304.9,499.5 L305.1,498.9 L305.3,498.3 L305.5,497.7 L305.8,497.2 L306.0,496.6 L306.2,496.1 L306.5,495.6 L306.7,495.0 L307.0,494.4 L307.2,493.9 L307.5,493.4 L307.7,492.9 L307.9,492.4 L308.1,491.9 L308.4,491.4 L308.6,490.9 L308.8,490.5 L309.0,490.0 L309.3,489.6 L309.5,489.1 L309.7,488.7 L309.9,488.3 L310.2,487.9 L310.4,487.4 L310.6,487.0 L310.9,486.6 L311.1,486.2 L311.3,485.8 L311.6,485.4 L311.8,485.1 L312.0,484.7 L312.3,484.3 L312.5,483.9 L312.7,483.5 L313.0,483.2 L313.2,482.8 L313.4,482.4 L313.7,482.1 L313.9,481.7 L314.2,481.4 L314.4,481.0 L314.6,480.6 L314.9,480.3 L315.1,479.9 L315.3,479.6 L315.6,479.3 L315.8,478.9 L316.0,478.6 L316.3,478.3 L316.5,477.9 L316.7,477.6 L317.0,477.3 L317.2,477.0 L317.4,476.7 L317.6,476.4 L317.9,476.0 L318.1,475.7 L318.3,475.4 L318.6,475.2 L318.8,474.9 L319.0,474.6 L319.2,474.3 L319.4,474.0 L319.7,473.7 L319.9,473.5 L320.1,473.2 L320.3,472.9 L320.5,472.7 L320.7,472.4 L321.0,472.2 L321.2,471.9 L321.5,471.7 L321.7,471.5 L322.0,471.3 L322.2,471.1 L322.5,470.8 L322.7,470.6 L323.0,470.4 L323.2,470.2 L323.5,470.0 L323.7,469.8 L324.0,469.6 L324.2,469.4 L324.5,469.2 L324.7,469.0 L325.0,468.8 L325.2,468.6 L325.4,468.4 L325.7,468.2 L325.9,468.0 L326.2,467.8 L326.4,467.6 L326.7,467.4 L326.9,467.3 L327.2,467.1 L327.4,466.9 L327.7,466.7 L327.9,466.5 L328.2,466.4 L328.4,466.2 L328.6,466.0 L328.9,465.8 L329.1,465.7 L329.4,465.5 L329.6,465.3 L329.9,465.1 L330.1,465.0 L330.4,464.8 L330.6,464.6 L330.9,464.5 L331.1,464.3 L331.4,464.2 L331.6,464.0 L331.8,463.8 L332.1,463.7 L332.3,463.5 L332.6,463.3 L332.8,463.2 L333.1,463.0 L333.3,462.9 L333.6,462.7 L333.8,462.6 L334.1,462.4 L334.3,462.3 L334.5,462.1 L334.8,462.0 L335.0,461.9 L335.3,461.7 L335.5,461.6 L335.8,461.4 L336.0,461.3 L336.2,461.2 L336.5,461.0 L336.7,460.9 L337.0,460.7 L337.2,460.6 L337.5,460.5 L337.7,460.3 L338.0,460.2 L338.2,460.1 L338.4,459.9 L338.7,459.8 L338.9,459.7 L339.2,459.6 L339.4,459.4 L339.7,459.3 L339.9,459.2 L340.2,459.0 L340.4,458.9 L340.7,458.8 L340.9,458.6 L341.1,458.5 L341.4,458.4 L341.6,458.3 L341.9,458.1 L342.1,458.0 L342.4,457.9 L342.6,457.8 L342.9,457.6 L343.1,457.5 L343.4,457.4 L343.6,457.2 L343.9,457.1 L344.1,457.0 L344.4,456.9 L344.6,456.7 L344.9,456.6 L345.1,456.5 L345.4,456.3 L345.6,456.2 L345.9,456.1 L346.1,456.0 L346.4,455.8 L347.9,455.0 L350.9,453.3 L353.9,451.6 L357.0,449.9 L360.0,448.2 L363.0,446.5 L366.0,444.7 L369.0,443.0 L372.0,441.3 L375.0,439.6 L378.0,437.8 L381.0,436.1 L384.0,434.3 L387.0,432.6 L390.0,430.8 L393.0,429.1 L396.0,427.4 L398.9,425.7 L401.9,424.1 L404.9,422.5 L407.9,420.9 L410.9,419.3 L413.9,417.7 L416.9,416.1 L419.9,414.6 L422.9,413.0 L425.9,411.4 L428.8,409.9 L431.9,408.3 L435.0,406.5 L438.2,403.9 L441.1,401.6 L443.8,400.4 L446.7,399.2 L449.7,398.0 L452.7,396.6 L455.7,395.3 L458.7,393.9 L461.7,392.5 L464.7,391.2 L467.7,389.8 L470.7,388.5 L473.7,387.2 L476.7,385.9 L479.7,384.6 L482.7,383.4 L485.7,382.1 L488.7,380.8 L491.7,379.6 L494.6,378.4 L497.6,377.2 L500.6,376.0 L503.6,374.8 L506.6,373.7 L509.6,372.5 L512.6,371.4 L515.6,370.3 L518.5,369.2 L521.5,368.1 L524.5,367.0 L527.5,366.0 L530.5,364.9 L533.5,363.9 L536.5,362.9 L539.5,361.9 L542.5,360.8 L545.5,359.9 L548.4,358.9 L551.4,357.9 L554.4,356.9 L557.4,355.9 L560.4,354.9 L563.4,354.0 L566.4,353.0 L569.4,352.1 L572.4,351.2 L575.4,350.2 L578.4,349.3 L581.4,348.4 L584.4,347.5 L587.3,346.6 L590.3,345.8 L593.3,344.9 L596.3,344.0 L599.3,343.1 L602.3,342.3 L605.3,341.4 L608.3,340.6 L611.3,339.7 L614.3,338.9 L617.3,338.1 L620.3,337.3 L623.3,336.4 L626.3,335.6 L629.3,334.8 L632.3,334.0 L635.3,333.1 L638.3,332.3 L641.3,331.5 L644.3,330.7 L647.3,329.9 L650.3,329.1 L653.3,328.3 L656.3,327.4 L659.3,326.6 L662.3,325.8 L665.3,325.0 L668.3,324.1 L671.3,323.3 L674.3,322.4 L677.3,321.6 L680.3,320.7 L683.4,319.8 L686.4,318.9 L689.4,318.0 L692.4,317.1 L695.3,316.2 L698.3,315.3 L701.3,314.5 L704.3,313.6 L707.3,312.8 L710.3,311.9 L713.3,311.1 L716.3,310.3 L719.3,309.5 L722.3,308.7 L725.2,307.9 L728.2,307.1 L731.2,306.4 L734.2,305.6 L737.2,304.9 L740.2,304.2 L743.2,303.5 L746.2,302.8 L749.2,302.0 L752.2,301.3 L755.2,300.6 L758.2,299.9 L761.2,299.2 L764.1,298.5 L767.1,297.8 L770.1,297.2 L773.1,296.5 L776.1,295.8 L779.1,295.1 L782.1,294.5 L785.1,293.8 L788.1,293.1 L791.1,292.5 L794.1,291.8 L797.1,291.2 L800.1,290.5 L803.1,289.9 L806.1,289.2 L809.1,288.6 L812.1,287.9 L815.1,287.3 L818.1,286.6 L821.1,286.0 L824.1,285.3 L827.1,284.7 L830.1,284.1 L833.1,283.5 L836.1,282.8 L839.1,282.2 L842.1,281.6 L845.1,281.0 L848.1,280.3 L851.1,279.7 L854.1,279.1 L857.1,278.5 L860.1,277.9 L863.1,277.3 L866.1,276.7 L869.0,276.0 L872.0,275.4 L875.0,274.8 L878.0,274.2 L881.0,273.6 L884.0,273.1 L887.0,272.5 L890.0,271.9 L893.0,271.3 L896.0,270.7 L899.0,270.1 L902.0,269.6 L905.0,269.0 L908.0,268.4 L911.0,267.9 L914.0,267.3 L917.0,266.7 L920.0,266.2 L923.0,265.6 L926.0,265.1 L929.0,264.5 L932.0,264.0 L935.0,263.4 L938.0,262.8 L941.0,262.3 L944.0,261.7 L947.0,261.2 L950.0,260.7 L953.0,260.1 L956.0,259.6 L959.0,259.0 L962.0,258.5 L965.0,257.9 L968.0,257.4 L971.0,256.9 L974.0,256.3 L976.9,255.8 L979.9,255.3 L982.9,254.8 L985.9,254.3 L988.9,253.8 L991.9,253.3 L994.9,252.8 L997.9,252.3 L1000.9,251.8 L1003.9,251.3 L1006.9,250.8 L1009.9,250.3 L1012.9,249.8 L1015.9,249.3 L1018.9,248.8 L1021.9,248.3 L1024.9,247.9 L1027.9,247.4 L1030.9,246.9 L1033.9,246.4 L1036.9,246.0 L1039.9,245.5 L1042.9,245.0 L1045.9,244.6 L1048.9,244.1 L1051.9,243.7 L1054.9,243.2 L1057.9,242.7 L1060.9,242.3 L1063.9,241.8 L1066.9,241.4 L1069.9,240.9 L1072.9,240.5 L1075.9,240.0 L1078.9,239.6 L1081.9,239.1 L1084.8,238.7 L1087.8,238.3 L1090.8,237.8 L1093.8,237.4 L1096.8,237.0 L1099.8,236.6 L1102.8,236.2 L1105.8,235.7 L1108.8,235.3 L1111.8,234.9 L1114.8,234.5 L1117.8,234.1 L1120.8,233.7 L1123.8,233.3 L1126.8,232.9 L1129.8,232.5 L1132.8,232.1 L1135.8,231.8 L1138.8,231.4 L1141.8,231.0 L1144.8,230.6 L1147.8,230.2 L1150.8,229.9 L1153.8,229.5 L1156.8,229.1 L1159.8,228.7 L1162.8,228.3 L1165.8,228.0 L1168.8,227.6 L1171.8,227.2 L1174.7,226.9 L1177.7,226.5 L1180.7,226.2 L1183.7,225.8 L1186.7,225.5 L1189.7,225.2 L1192.7,224.8 L1195.7,224.5 L1198.7,224.2 L1201.7,223.9 L1204.7,223.5 L1207.7,223.2 L1210.7,222.9 L1213.7,222.5 L1216.7,222.2 L1219.7,221.9 L1222.7,221.6 L1225.7,221.3 L1228.7,221.0 L1231.7,220.7 L1234.7,220.4 L1237.7,220.1 L1240.7,219.8 L1243.7,219.5 L1246.7,219.2 L1249.7,218.9 L1252.7,218.6 L1255.7,218.3 L1258.7,218.0 L1261.7,217.8 L1264.6,217.5 L1267.6,217.2 L1270.6,216.9 L1273.6,216.7 L1276.6,216.4 L1279.6,216.1 L1282.6,215.9 L1285.6,215.6 L1288.6,215.3 L1291.6,215.1 L1294.6,214.8 L1297.6,214.5 L1300.6,214.3 L1303.6,214.1 L1306.6,213.8 L1309.6,213.6 L1312.6,213.4 L1315.6,213.1 L1318.6,212.9 L1321.6,212.7 L1324.6,212.5 L1327.6,212.3 L1330.6,212.1 L1333.6,211.8 L1336.6,211.6 L1339.6,211.4 L1342.6,211.2 L1345.6,211.0 L1348.6,210.8 L1351.6,210.6 L1354.6,210.5 L1357.5,210.3 L1360.5,210.1 L1363.5,209.9 L1366.5,209.7 L1369.5,209.5 L1372.5,209.3 L1375.5,209.1 L1378.5,208.9 L1381.5,208.7 L1384.5,208.6 L1387.5,208.4 L1390.5,208.2 L1393.5,208.0 L1396.5,207.8 L1399.5,207.7 L1402.5,207.5 L1405.5,207.3 L1408.5,207.1 L1411.5,207.0 L1412.1,206.9 L1411.7,199.3 L1411.1,199.3 L1408.1,199.5 L1405.1,199.6 L1402.1,199.8 L1399.1,200.0 L1396.1,200.2 L1393.1,200.3 L1390.1,200.5 L1387.1,200.7 L1384.1,200.9 L1381.1,201.1 L1378.1,201.3 L1375.1,201.4 L1372.1,201.6 L1369.1,201.8 L1366.1,202.0 L1363.1,202.2 L1360.1,202.4 L1357.1,202.6 L1354.0,202.8 L1351.0,203.0 L1348.0,203.2 L1345.0,203.4 L1342.0,203.6 L1339.0,203.8 L1336.0,204.0 L1333.0,204.2 L1330.0,204.4 L1327.0,204.6 L1324.0,204.8 L1321.0,205.0 L1318.0,205.3 L1315.0,205.5 L1312.0,205.7 L1309.0,205.9 L1306.0,206.2 L1303.0,206.4 L1300.0,206.7 L1297.0,206.9 L1294.0,207.2 L1291.0,207.4 L1288.0,207.7 L1285.0,208.0 L1282.0,208.2 L1279.0,208.5 L1276.0,208.8 L1273.0,209.0 L1270.0,209.3 L1267.0,209.6 L1264.0,209.8 L1260.9,210.1 L1257.9,210.4 L1254.9,210.7 L1251.9,211.0 L1248.9,211.3 L1245.9,211.5 L1242.9,211.8 L1239.9,212.1 L1236.9,212.4 L1233.9,212.7 L1230.9,213.0 L1227.9,213.3 L1224.9,213.7 L1221.9,214.0 L1218.9,214.3 L1215.9,214.6 L1212.9,214.9 L1209.9,215.3 L1206.9,215.6 L1203.9,215.9 L1200.9,216.3 L1197.9,216.6 L1194.9,216.9 L1191.9,217.2 L1188.9,217.6 L1185.9,217.9 L1182.9,218.2 L1179.9,218.6 L1176.9,218.9 L1173.9,219.3 L1170.8,219.6 L1167.8,220.0 L1164.8,220.4 L1161.8,220.8 L1158.8,221.1 L1155.8,221.5 L1152.8,221.9 L1149.8,222.3 L1146.8,222.7 L1143.8,223.0 L1140.8,223.4 L1137.8,223.8 L1134.8,224.2 L1131.8,224.6 L1128.8,225.0 L1125.8,225.3 L1122.8,225.7 L1119.8,226.1 L1116.8,226.5 L1113.8,226.9 L1110.8,227.4 L1107.8,227.8 L1104.8,228.2 L1101.8,228.6 L1098.8,229.0 L1095.8,229.4 L1092.8,229.9 L1089.8,230.3 L1086.8,230.7 L1083.8,231.2 L1080.7,231.6 L1077.7,232.0 L1074.7,232.5 L1071.7,232.9 L1068.7,233.4 L1065.7,233.8 L1062.7,234.3 L1059.7,234.8 L1056.7,235.2 L1053.7,235.7 L1050.7,236.1 L1047.7,236.6 L1044.7,237.1 L1041.7,237.5 L1038.7,238.0 L1035.7,238.5 L1032.7,238.9 L1029.7,239.4 L1026.7,239.9 L1023.7,240.4 L1020.7,240.8 L1017.7,241.3 L1014.7,241.8 L1011.7,242.3 L1008.7,242.8 L1005.7,243.3 L1002.7,243.8 L999.7,244.3 L996.7,244.8 L993.7,245.3 L990.7,245.8 L987.7,246.3 L984.7,246.8 L981.7,247.3 L978.7,247.8 L975.7,248.3 L972.6,248.9 L969.6,249.4 L966.6,249.9 L963.6,250.5 L960.6,251.0 L957.6,251.6 L954.6,252.1 L951.6,252.7 L948.6,253.2 L945.6,253.7 L942.6,254.3 L939.6,254.8 L936.6,255.4 L933.6,256.0 L930.6,256.5 L927.6,257.1 L924.6,257.6 L921.6,258.2 L918.6,258.7 L915.6,259.3 L912.6,259.9 L909.6,260.4 L906.6,261.0 L903.6,261.6 L900.6,262.1 L897.6,262.7 L894.6,263.3 L891.6,263.9 L888.6,264.5 L885.6,265.1 L882.6,265.6 L879.6,266.2 L876.6,266.8 L873.6,267.4 L870.6,268.0 L867.6,268.7 L864.5,269.3 L861.5,269.9 L858.5,270.5 L855.5,271.1 L852.5,271.7 L849.5,272.3 L846.5,273.0 L843.5,273.6 L840.5,274.2 L837.5,274.8 L834.5,275.4 L831.5,276.1 L828.5,276.7 L825.5,277.3 L822.5,278.0 L819.5,278.6 L816.5,279.3 L813.5,279.9 L810.5,280.6 L807.5,281.2 L804.5,281.9 L801.5,282.5 L798.5,283.2 L795.5,283.8 L792.5,284.5 L789.5,285.1 L786.5,285.8 L783.5,286.5 L780.5,287.1 L777.5,287.8 L774.5,288.5 L771.5,289.2 L768.5,289.8 L765.5,290.5 L762.5,291.2 L759.4,291.9 L756.4,292.6 L753.4,293.3 L750.4,294.0 L747.4,294.8 L744.4,295.5 L741.4,296.2 L738.4,296.9 L735.4,297.6 L732.4,298.4 L729.4,299.1 L726.4,299.9 L723.4,300.7 L720.3,301.5 L717.3,302.3 L714.3,303.1 L711.3,303.9 L708.3,304.8 L705.3,305.6 L702.3,306.5 L699.3,307.4 L696.3,308.2 L693.3,309.1 L690.2,310.0 L687.2,310.9 L684.2,311.8 L681.2,312.7 L678.3,313.6 L675.3,314.5 L672.3,315.3 L669.3,316.2 L666.3,317.0 L663.3,317.8 L660.3,318.6 L657.3,319.5 L654.3,320.3 L651.3,321.1 L648.3,321.9 L645.3,322.7 L642.3,323.5 L639.3,324.3 L636.3,325.2 L633.3,326.0 L630.3,326.8 L627.3,327.6 L624.3,328.4 L621.3,329.3 L618.3,330.1 L615.3,330.9 L612.3,331.8 L609.3,332.6 L606.3,333.5 L603.3,334.3 L600.3,335.2 L597.3,336.0 L594.3,336.9 L591.3,337.8 L588.3,338.7 L585.3,339.6 L582.2,340.5 L579.2,341.4 L576.2,342.3 L573.2,343.2 L570.2,344.1 L567.2,345.1 L564.2,346.0 L561.2,347.0 L558.2,348.0 L555.2,349.0 L552.2,349.9 L549.2,350.9 L546.2,351.9 L543.1,352.9 L540.1,353.9 L537.1,354.9 L534.1,356.0 L531.1,357.0 L528.1,358.1 L525.1,359.1 L522.1,360.2 L519.1,361.3 L516.1,362.4 L513.0,363.5 L510.0,364.7 L507.0,365.8 L504.0,367.0 L501.0,368.2 L498.0,369.3 L495.0,370.6 L492.0,371.8 L488.9,373.0 L485.9,374.3 L482.9,375.6 L479.9,376.8 L476.9,378.1 L473.9,379.4 L470.9,380.7 L467.9,382.1 L464.9,383.4 L461.9,384.8 L458.9,386.2 L455.9,387.5 L452.9,388.9 L449.9,390.2 L446.9,391.4 L443.9,392.7 L440.8,394.2 L437.5,396.6 L434.4,399.2 L431.6,400.8 L428.7,402.3 L425.8,403.7 L422.7,405.4 L419.7,406.9 L416.7,408.5 L413.7,410.1 L410.7,411.7 L407.7,413.3 L404.7,414.9 L401.7,416.5 L398.7,418.2 L395.7,419.9 L392.6,421.6 L389.6,423.3 L386.6,425.1 L383.6,426.8 L380.6,428.6 L377.6,430.3 L374.6,432.1 L371.6,433.8 L368.6,435.5 L365.6,437.2 L362.6,439.0 L359.6,440.7 L356.6,442.4 L353.6,444.1 L350.7,445.8 L347.7,447.4 L344.7,449.0 L343.2,449.8 L343.0,449.9 L342.7,450.0 L342.5,450.1 L342.2,450.3 L342.0,450.4 L341.7,450.5 L341.5,450.7 L341.2,450.8 L341.0,450.9 L340.7,451.0 L340.5,451.2 L340.2,451.3 L340.0,451.4 L339.7,451.6 L339.5,451.7 L339.2,451.8 L339.0,452.0 L338.7,452.1 L338.5,452.2 L338.2,452.4 L338.0,452.5 L337.7,452.7 L337.4,452.8 L337.2,452.9 L336.9,453.1 L336.7,453.2 L336.4,453.4 L336.2,453.5 L335.9,453.6 L335.7,453.8 L335.4,453.9 L335.2,454.1 L334.9,454.2 L334.6,454.4 L334.4,454.5 L334.1,454.7 L333.9,454.8 L333.6,455.0 L333.4,455.2 L333.1,455.3 L332.9,455.5 L332.6,455.6 L332.3,455.8 L332.1,456.0 L331.8,456.1 L331.6,456.3 L331.3,456.5 L331.1,456.6 L330.8,456.8 L330.5,457.0 L330.3,457.2 L330.0,457.3 L329.8,457.5 L329.5,457.7 L329.3,457.9 L329.0,458.1 L328.8,458.2 L328.5,458.4 L328.3,458.6 L328.0,458.8 L327.7,459.0 L327.5,459.1 L327.2,459.3 L327.0,459.5 L326.7,459.7 L326.5,459.9 L326.2,460.1 L326.0,460.3 L325.7,460.5 L325.5,460.7 L325.2,460.9 L325.0,461.1 L324.7,461.3 L324.4,461.5 L324.2,461.7 L323.9,461.9 L323.7,462.1 L323.4,462.3 L323.2,462.5 L322.9,462.8 L322.7,463.0 L322.4,463.2 L322.2,463.4 L321.9,463.6 L321.7,463.9 L321.4,464.1 L321.1,464.3 L320.9,464.6 L320.6,464.8 L320.4,465.0 L320.1,465.3 L319.9,465.5 L319.6,465.8 L319.4,466.0 L319.1,466.3 L318.9,466.5 L318.6,466.8 L318.4,467.0 L318.1,467.3 L317.9,467.5 L317.6,467.8 L317.4,468.1 L317.1,468.3 L316.9,468.6 L316.6,468.8 L316.3,469.1 L316.0,469.4 L315.7,469.6 L315.4,469.9 L315.2,470.2 L314.9,470.5 L314.6,470.8 L314.3,471.1 L314.0,471.4 L313.8,471.7 L313.5,472.0 L313.2,472.3 L313.0,472.6 L312.7,472.9 L312.4,473.2 L312.1,473.6 L311.9,473.9 L311.6,474.2 L311.3,474.6 L311.1,474.9 L310.8,475.3 L310.5,475.6 L310.3,476.0 L310.0,476.3 L309.7,476.7 L309.5,477.0 L309.2,477.4 L308.9,477.8 L308.7,478.1 L308.4,478.5 L308.2,478.9 L307.9,479.2 L307.6,479.6 L307.4,480.0 L307.1,480.4 L306.8,480.8 L306.6,481.2 L306.3,481.6 L306.0,482.0 L305.8,482.4 L305.5,482.8 L305.2,483.2 L305.0,483.6 L304.7,484.1 L304.4,484.5 L304.2,484.9 L303.9,485.4 L303.6,485.9 L303.3,486.3 L303.1,486.8 L302.8,487.3 L302.5,487.8 L302.2,488.3 L302.0,488.8 L301.7,489.3 L301.4,489.9 L301.1,490.4 L300.9,491.0 L300.6,491.6 L300.4,492.1 L300.1,492.6 L299.9,493.2 L299.6,493.8 L299.3,494.3 L299.1,494.9 L298.8,495.6 L298.5,496.2 L298.2,496.9 L297.9,497.6 L297.6,498.4 L297.3,499.2 L297.0,500.0 L296.7,500.9 L296.5,501.9 L296.2,502.9 L295.9,504.0 L295.6,505.3 L295.3,506.9 L295.0,508.8 L294.8,510.7 L294.5,512.7Z"/>
<path fill="#0000ff" d="M302.0,479.2 L302.3,477.7 L302.5,476.2 L302.8,474.7 L303.1,473.1 L303.3,471.3 L303.6,469.6 L303.7,468.5 L303.9,467.6 L304.1,466.7 L304.4,465.8 L304.6,465.0 L304.8,464.3 L305.0,463.6 L305.2,462.9 L305.4,462.3 L305.6,461.7 L305.8,461.1 L306.0,460.6 L306.3,460.0 L306.5,459.5 L306.7,459.0 L307.0,458.4 L307.2,457.9 L307.5,457.4 L307.7,456.8 L308.0,456.2 L308.3,455.6 L308.5,455.0 L308.8,454.5 L309.0,453.9 L309.3,453.3 L309.5,452.8 L309.8,452.2 L310.0,451.7 L310.2,451.1 L310.5,450.6 L310.7,450.1 L310.9,449.6 L311.2,449.1 L311.4,448.6 L311.6,448.1 L311.9,447.6 L312.1,447.1 L312.3,446.6 L312.6,446.2 L312.8,445.7 L313.0,445.3 L313.2,444.8 L313.4,444.4 L313.7,444.0 L313.9,443.6 L314.1,443.2 L314.3,442.8 L314.5,442.4 L314.8,442.1 L315.0,441.7 L315.2,441.3 L315.5,440.9 L315.7,440.6 L315.9,440.2 L316.2,439.9 L316.4,439.5 L316.6,439.2 L316.8,438.8 L317.1,438.5 L317.3,438.1 L317.5,437.8 L317.7,437.5 L318.0,437.2 L318.2,436.9 L318.4,436.6 L318.6,436.3 L318.8,436.0 L319.0,435.7 L319.3,435.4 L319.5,435.1 L319.7,434.8 L319.9,434.6 L320.1,434.3 L320.3,434.0 L320.5,433.8 L320.7,433.5 L321.0,433.3 L321.2,433.1 L321.5,432.9 L321.7,432.7 L322.0,432.5 L322.2,432.3 L322.5,432.1 L322.7,431.9 L323.0,431.7 L323.2,431.5 L323.5,431.3 L323.7,431.1 L323.9,430.9 L324.2,430.7 L324.4,430.5 L324.7,430.4 L324.9,430.2 L325.2,430.0 L325.4,429.8 L325.7,429.7 L325.9,429.5 L326.2,429.3 L326.4,429.1 L326.6,429.0 L326.9,428.8 L327.1,428.6 L327.4,428.5 L327.6,428.3 L327.9,428.1 L328.1,428.0 L328.4,427.8 L328.6,427.7 L328.8,427.5 L329.1,427.3 L329.3,427.2 L329.6,427.0 L329.8,426.9 L330.1,426.7 L330.3,426.5 L330.6,426.4 L330.8,426.2 L331.1,426.1 L331.3,425.9 L331.6,425.7 L331.8,425.6 L332.1,425.4 L332.3,425.3 L332.6,425.1 L332.8,424.9 L333.1,424.8 L333.3,424.6 L333.6,424.5 L333.8,424.3 L334.0,424.2 L334.3,424.0 L334.5,423.9 L334.8,423.7 L335.0,423.6 L335.3,423.4 L335.5,423.3 L335.8,423.2 L336.0,423.0 L336.2,422.9 L336.5,422.7 L336.7,422.6 L337.0,422.5 L337.2,422.3 L337.5,422.2 L337.7,422.1 L338.0,421.9 L338.2,421.8 L338.5,421.6 L338.7,421.5 L338.9,421.4 L339.2,421.2 L339.4,421.1 L339.7,421.0 L339.9,420.8 L340.2,420.7 L340.4,420.6 L340.7,420.5 L340.9,420.3 L341.2,420.2 L341.4,420.1 L341.7,419.9 L341.9,419.8 L342.2,419.7 L342.4,419.5 L342.6,419.4 L342.9,419.3 L343.1,419.1 L343.4,419.0 L343.6,418.9 L343.9,418.7 L344.1,418.6 L344.4,418.5 L344.6,418.4 L344.9,418.2 L345.1,418.1 L345.4,418.0 L345.6,417.8 L345.9,417.7 L346.1,417.6 L346.4,417.4 L347.9,416.6 L350.9,414.9 L354.0,413.2 L357.0,411.5 L360.0,409.8 L363.0,408.1 L366.0,406.4 L368.9,404.7 L371.9,403.0 L374.9,401.4 L377.9,399.8 L380.9,398.2 L383.9,396.6 L386.9,395.1 L389.9,393.6 L392.9,392.0 L395.8,390.5 L398.8,389.0 L401.8,387.5 L404.8,386.1 L407.8,384.6 L410.8,383.1 L413.8,381.7 L416.8,380.3 L419.8,378.9 L422.8,377.5 L425.8,376.1 L428.8,374.7 L431.7,373.4 L434.7,372.1 L437.7,370.7 L440.7,369.4 L443.7,368.1 L446.7,366.9 L449.7,365.6 L452.7,364.3 L455.7,363.1 L458.7,361.8 L461.7,360.6 L464.6,359.4 L467.6,358.2 L470.6,357.0 L473.6,355.8 L476.6,354.6 L479.6,353.5 L482.6,352.3 L485.6,351.2 L488.6,350.1 L491.6,348.9 L494.6,347.8 L497.5,346.7 L500.5,345.7 L503.5,344.6 L506.5,343.5 L509.5,342.5 L512.5,341.4 L515.5,340.4 L518.5,339.4 L521.5,338.3 L524.5,337.3 L527.5,336.3 L530.4,335.3 L533.4,334.4 L536.4,333.4 L539.4,332.4 L542.4,331.4 L545.4,330.5 L548.4,329.6 L551.4,328.6 L554.4,327.7 L557.4,326.8 L560.4,325.8 L563.4,324.9 L566.4,324.0 L569.4,323.1 L572.4,322.2 L575.3,321.3 L578.3,320.5 L581.3,319.6 L584.3,318.7 L587.3,317.8 L590.3,317.0 L593.3,316.1 L596.3,315.3 L599.3,314.4 L602.3,313.6 L605.3,312.8 L608.3,312.0 L611.3,311.1 L614.3,310.3 L617.3,309.5 L620.3,308.7 L623.3,307.9 L626.3,307.1 L629.3,306.3 L632.2,305.5 L635.2,304.8 L638.2,304.0 L641.2,303.2 L644.2,302.4 L647.2,301.7 L650.2,300.9 L653.2,300.1 L656.2,299.4 L659.2,298.6 L662.2,297.9 L665.2,297.1 L668.2,296.4 L671.2,295.7 L674.2,294.9 L677.1,294.3 L680.1,293.7 L683.1,293.1 L686.1,292.4 L689.2,291.7 L692.4,290.7 L695.6,289.5 L698.5,288.4 L701.4,287.5 L704.3,286.7 L707.3,285.9 L710.2,285.1 L713.2,284.4 L716.2,283.7 L719.2,283.0 L722.2,282.2 L725.2,281.5 L728.2,280.8 L731.2,280.0 L734.2,279.3 L737.2,278.6 L740.2,277.9 L743.1,277.2 L746.1,276.5 L749.1,275.8 L752.1,275.2 L755.1,274.5 L758.1,273.9 L761.1,273.3 L764.1,272.7 L767.1,272.0 L770.0,271.4 L773.0,270.8 L776.0,270.2 L779.0,269.7 L782.0,269.1 L785.0,268.5 L788.0,268.0 L791.0,267.4 L794.0,266.9 L797.0,266.3 L800.0,265.8 L803.0,265.2 L806.0,264.6 L809.0,264.0 L812.0,263.5 L815.0,262.9 L818.0,262.4 L821.0,261.8 L824.0,261.2 L827.0,260.7 L830.0,260.1 L833.0,259.6 L836.0,259.1 L839.0,258.5 L842.0,258.0 L845.0,257.4 L848.0,256.9 L851.0,256.4 L854.0,255.8 L857.0,255.3 L860.0,254.8 L863.0,254.3 L866.0,253.7 L869.0,253.2 L872.0,252.7 L875.0,252.2 L877.9,251.6 L880.9,251.1 L883.9,250.6 L886.9,250.1 L889.9,249.6 L892.9,249.1 L895.9,248.5 L898.9,248.0 L901.9,247.5 L904.9,247.0 L907.9,246.5 L910.9,246.0 L913.9,245.5 L916.9,245.0 L919.9,244.5 L922.9,244.0 L925.9,243.5 L928.9,243.0 L931.9,242.5 L934.9,242.1 L937.9,241.6 L940.9,241.1 L943.9,240.6 L946.9,240.1 L949.9,239.7 L952.9,239.2 L955.9,238.7 L958.9,238.2 L961.9,237.7 L964.9,237.3 L967.9,236.8 L970.9,236.3 L973.9,235.8 L976.9,235.4 L979.9,234.9 L982.9,234.4 L985.9,234.0 L988.9,233.5 L991.9,233.1 L994.9,232.6 L997.9,232.2 L1000.9,231.7 L1003.9,231.3 L1006.9,230.8 L1009.9,230.4 L1012.9,229.9 L1015.9,229.5 L1018.9,229.0 L1021.8,228.6 L1024.8,228.2 L1027.8,227.7 L1030.8,227.3 L1033.8,226.9 L1036.8,226.5 L1039.8,226.1 L1042.8,225.6 L1045.8,225.2 L1048.8,224.8 L1051.8,224.4 L1054.8,224.0 L1057.8,223.6 L1060.8,223.1 L1063.8,222.7 L1066.8,222.3 L1069.8,221.9 L1072.8,221.5 L1075.8,221.2 L1078.8,220.7 L1081.9,220.3 L1084.9,219.8 L1087.8,219.4 L1090.8,219.1 L1093.7,218.8 L1096.5,218.5 L1099.3,218.5 L1102.1,218.5 L1105.0,218.7 L1106.9,218.8 L1110.3,220.3 L1115.9,219.6 L1119.1,216.9 L1121.6,216.2 L1124.3,215.4 L1127.0,214.9 L1129.9,214.4 L1132.8,214.0 L1135.8,213.6 L1138.7,213.2 L1141.7,212.9 L1144.7,212.6 L1147.7,212.3 L1150.7,212.0 L1153.7,211.6 L1156.7,211.3 L1159.7,211.0 L1162.7,210.6 L1165.7,210.3 L1168.7,210.0 L1171.7,209.7 L1174.7,209.4 L1177.7,209.1 L1180.7,208.7 L1183.7,208.4 L1186.7,208.1 L1189.7,207.8 L1192.7,207.5 L1195.7,207.2 L1198.7,206.9 L1201.7,206.6 L1204.7,206.3 L1207.7,206.0 L1210.7,205.7 L1213.7,205.4 L1216.7,205.1 L1219.7,204.8 L1222.6,204.6 L1225.6,204.3 L1228.6,204.0 L1231.6,203.8 L1234.6,203.5 L1237.6,203.3 L1240.6,203.0 L1243.6,202.8 L1246.6,202.5 L1249.6,202.3 L1252.6,202.0 L1255.6,201.8 L1258.6,201.5 L1261.6,201.3 L1264.6,201.1 L1267.6,200.8 L1270.6,200.6 L1273.6,200.4 L1276.6,200.1 L1279.6,199.9 L1282.6,199.7 L1285.6,199.5 L1288.6,199.2 L1291.6,199.0 L1294.6,198.8 L1297.6,198.6 L1300.6,198.4 L1303.6,198.2 L1306.6,198.0 L1309.6,197.8 L1312.5,197.6 L1315.5,197.4 L1318.5,197.2 L1321.5,197.1 L1324.5,196.9 L1327.5,196.7 L1330.5,196.5 L1333.5,196.4 L1336.5,196.2 L1339.5,196.1 L1342.5,195.9 L1345.5,195.8 L1348.5,195.6 L1351.5,195.5 L1354.5,195.3 L1357.5,195.2 L1360.5,195.1 L1363.5,194.9 L1366.5,194.8 L1369.5,194.7 L1372.5,194.6 L1375.5,194.4 L1378.5,194.3 L1381.5,194.2 L1384.5,194.1 L1387.5,193.9 L1390.5,193.8 L1393.5,193.7 L1396.5,193.6 L1399.5,193.4 L1402.5,193.3 L1405.5,193.2 L1408.5,193.1 L1411.5,193.0 L1412.0,192.9 L1411.8,185.2 L1411.1,185.3 L1408.1,185.4 L1405.1,185.5 L1402.1,185.6 L1399.1,185.7 L1396.1,185.9 L1393.1,186.0 L1390.1,186.1 L1387.1,186.2 L1384.1,186.4 L1381.1,186.5 L1378.1,186.6 L1375.1,186.7 L1372.1,186.9 L1369.1,187.0 L1366.1,187.1 L1363.1,187.3 L1360.1,187.4 L1357.1,187.5 L1354.1,187.7 L1351.1,187.8 L1348.1,187.9 L1345.1,188.1 L1342.1,188.2 L1339.1,188.4 L1336.1,188.5 L1333.1,188.7 L1330.1,188.9 L1327.1,189.0 L1324.1,189.2 L1321.1,189.4 L1318.1,189.6 L1315.1,189.8 L1312.1,189.9 L1309.0,190.1 L1306.0,190.3 L1303.0,190.5 L1300.0,190.7 L1297.0,191.0 L1294.0,191.2 L1291.0,191.4 L1288.0,191.6 L1285.0,191.8 L1282.0,192.0 L1279.0,192.2 L1276.0,192.5 L1273.0,192.7 L1270.0,192.9 L1267.0,193.2 L1264.0,193.4 L1261.0,193.7 L1258.0,193.9 L1255.0,194.1 L1252.0,194.4 L1249.0,194.6 L1246.0,194.9 L1243.0,195.1 L1240.0,195.4 L1237.0,195.6 L1234.0,195.9 L1231.0,196.1 L1228.0,196.4 L1225.0,196.7 L1222.0,196.9 L1218.9,197.2 L1215.9,197.5 L1212.9,197.8 L1209.9,198.1 L1206.9,198.4 L1203.9,198.7 L1200.9,199.0 L1197.9,199.3 L1194.9,199.6 L1191.9,199.9 L1188.9,200.2 L1185.9,200.5 L1182.9,200.8 L1179.9,201.1 L1176.9,201.4 L1173.9,201.8 L1170.9,202.1 L1167.9,202.4 L1164.9,202.7 L1161.9,203.0 L1158.9,203.4 L1155.9,203.7 L1152.9,204.0 L1149.9,204.4 L1146.9,204.7 L1143.9,205.0 L1140.9,205.3 L1137.9,205.6 L1134.8,206.0 L1131.8,206.4 L1128.7,206.9 L1125.6,207.4 L1122.3,208.3 L1119.0,209.5 L1115.5,211.9 L1112.7,213.5 L1112.3,213.2 L1109.7,212.3 L1105.6,211.0 L1102.5,210.8 L1099.3,210.8 L1096.1,210.9 L1092.9,211.1 L1089.8,211.5 L1086.8,211.9 L1083.7,212.3 L1080.7,212.8 L1077.8,213.2 L1074.8,213.6 L1071.8,214.0 L1068.8,214.3 L1065.8,214.8 L1062.8,215.2 L1059.8,215.6 L1056.8,216.0 L1053.8,216.4 L1050.8,216.8 L1047.8,217.3 L1044.8,217.7 L1041.8,218.1 L1038.8,218.5 L1035.8,218.9 L1032.8,219.3 L1029.8,219.8 L1026.8,220.2 L1023.8,220.6 L1020.8,221.1 L1017.7,221.5 L1014.7,221.9 L1011.7,222.4 L1008.7,222.8 L1005.7,223.3 L1002.7,223.7 L999.7,224.2 L996.7,224.6 L993.7,225.1 L990.7,225.5 L987.7,226.0 L984.7,226.5 L981.7,226.9 L978.7,227.4 L975.7,227.8 L972.7,228.3 L969.7,228.8 L966.7,229.3 L963.7,229.7 L960.7,230.2 L957.7,230.7 L954.7,231.2 L951.7,231.7 L948.7,232.2 L945.7,232.6 L942.7,233.1 L939.7,233.6 L936.7,234.1 L933.7,234.5 L930.7,235.0 L927.7,235.5 L924.7,236.0 L921.7,236.5 L918.7,237.0 L915.7,237.5 L912.7,238.0 L909.7,238.5 L906.7,239.0 L903.7,239.5 L900.7,240.0 L897.7,240.5 L894.7,241.1 L891.7,241.6 L888.7,242.1 L885.7,242.6 L882.7,243.1 L879.7,243.6 L876.7,244.2 L873.6,244.7 L870.6,245.2 L867.6,245.7 L864.6,246.3 L861.6,246.8 L858.6,247.3 L855.6,247.8 L852.6,248.4 L849.6,248.9 L846.6,249.4 L843.6,250.0 L840.6,250.5 L837.6,251.1 L834.6,251.6 L831.6,252.1 L828.6,252.7 L825.6,253.2 L822.6,253.8 L819.6,254.4 L816.6,254.9 L813.6,255.5 L810.6,256.0 L807.6,256.6 L804.6,257.2 L801.6,257.7 L798.6,258.3 L795.6,258.9 L792.6,259.4 L789.6,260.0 L786.6,260.5 L783.6,261.1 L780.6,261.7 L777.6,262.2 L774.6,262.8 L771.6,263.4 L768.6,264.0 L765.5,264.6 L762.5,265.3 L759.5,265.9 L756.5,266.5 L753.5,267.2 L750.5,267.8 L747.5,268.5 L744.5,269.2 L741.5,269.9 L738.4,270.6 L735.4,271.3 L732.4,272.0 L729.4,272.8 L726.4,273.5 L723.4,274.2 L720.4,275.0 L717.4,275.7 L714.4,276.4 L711.4,277.1 L708.4,277.9 L705.3,278.7 L702.3,279.6 L699.2,280.5 L696.1,281.6 L693.0,282.8 L690.2,283.7 L687.4,284.4 L684.5,285.1 L681.5,285.7 L678.5,286.3 L675.5,286.9 L672.4,287.6 L669.4,288.4 L666.4,289.1 L663.4,289.9 L660.4,290.6 L657.4,291.4 L654.4,292.1 L651.4,292.9 L648.4,293.7 L645.4,294.4 L642.4,295.2 L639.4,296.0 L636.4,296.8 L633.4,297.5 L630.4,298.3 L627.3,299.1 L624.3,299.9 L621.3,300.7 L618.3,301.5 L615.3,302.3 L612.3,303.2 L609.3,304.0 L606.3,304.8 L603.3,305.6 L600.3,306.5 L597.3,307.3 L594.3,308.2 L591.3,309.0 L588.3,309.9 L585.3,310.7 L582.3,311.6 L579.3,312.5 L576.3,313.4 L573.3,314.3 L570.2,315.2 L567.2,316.1 L564.2,317.0 L561.2,317.9 L558.2,318.8 L555.2,319.7 L552.2,320.7 L549.2,321.6 L546.2,322.5 L543.2,323.5 L540.2,324.5 L537.2,325.4 L534.2,326.4 L531.2,327.4 L528.2,328.4 L525.1,329.4 L522.1,330.4 L519.1,331.4 L516.1,332.5 L513.1,333.5 L510.1,334.6 L507.1,335.6 L504.1,336.7 L501.1,337.8 L498.1,338.8 L495.1,339.9 L492.0,341.1 L489.0,342.2 L486.0,343.3 L483.0,344.5 L480.0,345.6 L477.0,346.8 L474.0,347.9 L471.0,349.1 L468.0,350.3 L465.0,351.5 L462.0,352.8 L458.9,354.0 L455.9,355.3 L452.9,356.5 L449.9,357.8 L446.9,359.1 L443.9,360.4 L440.9,361.7 L437.9,363.0 L434.9,364.3 L431.9,365.6 L428.9,367.0 L425.8,368.4 L422.8,369.7 L419.8,371.1 L416.8,372.6 L413.8,374.0 L410.8,375.5 L407.8,376.9 L404.8,378.4 L401.8,379.9 L398.8,381.4 L395.8,382.9 L392.8,384.4 L389.7,385.9 L386.7,387.5 L383.7,389.0 L380.7,390.6 L377.7,392.2 L374.7,393.8 L371.7,395.5 L368.7,397.1 L365.7,398.8 L362.6,400.5 L359.6,402.3 L356.6,404.0 L353.6,405.7 L350.6,407.4 L347.7,409.0 L344.7,410.6 L343.2,411.4 L343.0,411.5 L342.7,411.7 L342.5,411.8 L342.2,411.9 L342.0,412.1 L341.7,412.2 L341.5,412.3 L341.2,412.5 L341.0,412.6 L340.7,412.7 L340.5,412.9 L340.2,413.0 L340.0,413.1 L339.7,413.3 L339.5,413.4 L339.2,413.5 L338.9,413.7 L338.7,413.8 L338.4,414.0 L338.2,414.1 L337.9,414.2 L337.7,414.4 L337.4,414.5 L337.2,414.7 L336.9,414.8 L336.7,414.9 L336.4,415.1 L336.2,415.2 L335.9,415.4 L335.7,415.5 L335.4,415.7 L335.1,415.8 L334.9,416.0 L334.6,416.1 L334.4,416.3 L334.1,416.4 L333.9,416.6 L333.6,416.7 L333.4,416.9 L333.1,417.0 L332.9,417.2 L332.6,417.4 L332.3,417.5 L332.1,417.7 L331.8,417.8 L331.6,418.0 L331.3,418.2 L331.1,418.3 L330.8,418.5 L330.6,418.7 L330.3,418.8 L330.0,419.0 L329.8,419.2 L329.5,419.4 L329.3,419.5 L329.0,419.7 L328.8,419.9 L328.5,420.0 L328.3,420.2 L328.0,420.3 L327.8,420.5 L327.5,420.7 L327.3,420.9 L327.0,421.0 L326.8,421.2 L326.5,421.4 L326.3,421.6 L326.0,421.7 L325.8,421.9 L325.5,422.1 L325.3,422.3 L325.0,422.5 L324.7,422.6 L324.5,422.8 L324.2,423.0 L324.0,423.2 L323.7,423.4 L323.5,423.6 L323.2,423.8 L323.0,424.0 L322.7,424.2 L322.4,424.4 L322.2,424.6 L321.9,424.8 L321.7,425.0 L321.4,425.3 L321.2,425.5 L320.9,425.7 L320.7,425.9 L320.4,426.1 L320.2,426.4 L319.9,426.6 L319.6,426.8 L319.4,427.1 L319.1,427.3 L318.9,427.6 L318.6,427.8 L318.4,428.1 L318.1,428.3 L317.9,428.6 L317.6,428.8 L317.4,429.1 L317.1,429.4 L316.9,429.7 L316.6,429.9 L316.3,430.2 L316.0,430.5 L315.7,430.7 L315.4,431.0 L315.1,431.3 L314.8,431.6 L314.6,431.9 L314.3,432.2 L314.0,432.5 L313.7,432.8 L313.4,433.1 L313.1,433.5 L312.9,433.8 L312.6,434.1 L312.3,434.5 L312.0,434.8 L311.8,435.2 L311.5,435.5 L311.2,435.9 L310.9,436.3 L310.7,436.6 L310.4,437.0 L310.1,437.4 L309.9,437.8 L309.6,438.2 L309.3,438.6 L309.1,439.0 L308.8,439.4 L308.5,439.8 L308.2,440.2 L307.9,440.6 L307.7,441.1 L307.4,441.5 L307.1,442.0 L306.8,442.5 L306.5,443.0 L306.3,443.5 L306.0,444.0 L305.7,444.5 L305.5,445.0 L305.2,445.5 L304.9,446.0 L304.7,446.6 L304.4,447.1 L304.1,447.7 L303.9,448.2 L303.6,448.8 L303.3,449.4 L303.1,449.9 L302.8,450.5 L302.6,451.1 L302.3,451.7 L302.1,452.2 L301.8,452.8 L301.6,453.4 L301.4,453.9 L301.1,454.4 L300.9,454.9 L300.6,455.5 L300.4,456.0 L300.1,456.6 L299.8,457.2 L299.6,457.8 L299.3,458.4 L299.0,459.0 L298.7,459.7 L298.4,460.5 L298.1,461.2 L297.8,462.0 L297.5,462.9 L297.2,463.8 L297.0,464.7 L296.7,465.8 L296.4,466.8 L296.0,468.4 L295.8,470.2 L295.5,471.9 L295.3,473.4 L295.1,475.0 L294.8,476.4 L294.6,477.8Z"/>
<path fill="#ff00ff" d="M298.0,426.9 L301.0,425.4 L304.1,423.8 L307.1,422.2 L310.1,420.6 L313.1,418.9 L316.1,417.2 L319.2,415.5 L322.2,413.7 L325.2,412.0 L328.2,410.1 L330.4,408.8 L327.0,403.2 L324.8,404.5 L321.8,406.3 L318.8,408.0 L315.8,409.7 L312.9,411.4 L309.9,413.0 L306.9,414.7 L303.9,416.2 L300.9,417.8 L298.0,419.2 L295.0,420.7Z M402.0,367.8 L404.9,366.6 L407.9,365.5 L410.8,364.4 L413.8,363.4 L416.8,362.3 L419.8,361.3 L422.8,360.2 L425.9,359.1 L428.9,357.9 L432.0,356.6 L435.0,355.3 L436.5,354.6 L433.5,348.2 L432.2,348.8 L429.2,350.1 L426.3,351.2 L423.3,352.3 L420.4,353.4 L417.4,354.4 L414.4,355.5 L411.4,356.5 L408.4,357.6 L405.3,358.8 L402.3,360.0 L399.2,361.4Z M507.7,324.1 L510.7,323.1 L513.8,322.1 L516.8,321.1 L519.8,320.2 L522.7,319.2 L525.7,318.2 L528.7,317.2 L531.7,316.2 L534.7,315.3 L537.7,314.4 L540.3,313.6 L538.1,306.5 L535.5,307.3 L532.5,308.3 L529.5,309.3 L526.5,310.2 L523.5,311.2 L520.5,312.2 L517.4,313.2 L514.4,314.2 L511.4,315.2 L508.5,316.2 L505.5,317.2Z M614.3,291.0 L617.2,290.3 L620.2,289.6 L623.1,288.9 L626.1,288.2 L629.1,287.6 L632.1,287.0 L635.1,286.4 L638.1,285.7 L641.1,285.1 L644.1,284.4 L646.8,283.8 L645.2,276.5 L642.5,277.1 L639.5,277.7 L636.5,278.3 L633.5,279.0 L630.5,279.6 L627.5,280.2 L624.5,280.9 L621.5,281.5 L618.4,282.3 L615.4,283.0 L612.3,283.9Z M720.5,264.0 L723.4,263.2 L726.4,262.5 L729.4,261.8 L732.3,261.1 L735.3,260.5 L738.3,259.8 L741.3,259.2 L744.3,258.6 L747.3,258.0 L750.3,257.4 L752.6,256.9 L751.0,249.5 L748.7,250.0 L745.7,250.6 L742.7,251.2 L739.7,251.8 L736.7,252.5 L733.7,253.1 L730.7,253.8 L727.6,254.5 L724.6,255.2 L721.6,256.0 L718.5,256.8Z M826.8,242.9 L829.8,242.5 L832.8,242.0 L835.7,241.6 L838.7,241.2 L841.7,240.8 L844.7,240.4 L847.7,239.9 L850.8,239.5 L853.8,239.0 L856.8,238.6 L858.6,238.2 L857.4,230.8 L855.6,231.1 L852.6,231.5 L849.6,232.0 L846.7,232.4 L843.7,232.8 L840.7,233.2 L837.7,233.6 L834.7,234.1 L831.6,234.5 L828.6,235.0 L825.6,235.5Z M933.7,224.8 L936.7,224.3 L939.6,223.7 L942.6,223.3 L945.6,222.8 L948.6,222.3 L951.6,221.9 L954.6,221.4 L957.6,221.0 L960.6,220.5 L963.6,220.0 L965.4,219.7 L964.2,212.3 L962.4,212.5 L959.4,213.0 L956.4,213.5 L953.4,213.9 L950.4,214.4 L947.4,214.8 L944.4,215.3 L941.4,215.8 L938.4,216.3 L935.3,216.8 L932.3,217.4Z M1039.7,207.1 L1042.7,206.7 L1045.7,206.3 L1048.6,206.0 L1051.6,205.6 L1054.6,205.3 L1057.6,205.0 L1060.6,204.7 L1063.6,204.4 L1066.6,204.1 L1069.6,203.8 L1072.6,203.5 L1073.6,203.3 L1072.8,195.7 L1071.8,195.9 L1068.8,196.2 L1065.8,196.5 L1062.8,196.8 L1059.8,197.1 L1056.8,197.4 L1053.8,197.7 L1050.8,198.0 L1047.8,198.4 L1044.7,198.7 L1041.7,199.1 L1038.7,199.5Z M1142.5,195.8 L1145.5,195.6 L1148.6,195.3 L1151.6,195.0 L1154.6,194.6 L1157.7,194.3 L1160.7,193.9 L1163.7,193.5 L1166.7,193.1 L1169.7,192.8 L1172.6,192.4 L1175.4,192.1 L1174.6,184.5 L1171.8,184.8 L1168.7,185.2 L1165.7,185.6 L1162.7,185.9 L1159.7,186.3 L1156.7,186.7 L1153.8,187.1 L1150.8,187.4 L1147.8,187.7 L1144.9,187.9 L1141.9,188.2Z M1248.9,184.9 L1251.9,184.6 L1254.9,184.3 L1257.9,184.0 L1260.9,183.7 L1263.9,183.4 L1266.9,183.0 L1269.9,182.7 L1272.9,182.4 L1275.9,182.2 L1278.8,181.9 L1281.8,181.7 L1282.2,181.6 L1281.6,174.0 L1281.2,174.0 L1278.2,174.3 L1275.1,174.5 L1272.1,174.8 L1269.1,175.1 L1266.1,175.4 L1263.1,175.7 L1260.1,176.1 L1257.1,176.4 L1254.1,176.7 L1251.1,177.0 L1248.1,177.3Z M1355.5,176.6 L1358.6,176.6 L1361.6,176.4 L1364.7,176.2 L1367.8,175.9 L1370.8,175.6 L1373.8,175.3 L1376.8,175.0 L1379.8,174.7 L1382.7,174.4 L1385.6,174.2 L1388.5,174.1 L1388.1,166.4 L1385.2,166.5 L1382.1,166.8 L1379.0,167.0 L1376.0,167.3 L1373.0,167.6 L1370.0,168.0 L1367.0,168.2 L1364.1,168.5 L1361.2,168.7 L1358.2,168.9 L1355.3,169.0Z M347.3,397.3 L350.3,395.4 L353.2,393.5 L356.2,391.7 L358.4,390.4 L355.0,384.7 L352.8,386.1 L349.8,388.0 L346.7,390.0 L343.7,392.0Z M374.6,381.1 L377.6,379.5 L380.6,378.0 L383.6,376.5 L385.7,375.4 L382.7,369.2 L380.4,370.3 L377.4,371.9 L374.4,373.5 L371.4,375.2Z M451.7,345.8 L454.6,344.3 L457.5,342.9 L460.5,341.5 L462.6,340.6 L459.8,334.2 L457.5,335.2 L454.5,336.6 L451.4,338.2 L448.3,340.0Z M479.0,333.9 L482.0,332.8 L484.9,331.7 L487.9,330.6 L490.1,329.9 L487.7,323.0 L485.5,323.8 L482.5,324.9 L479.4,326.0 L476.4,327.2Z M557.6,308.5 L560.6,307.6 L563.6,306.7 L566.6,305.9 L568.8,305.3 L566.8,298.2 L564.6,298.8 L561.6,299.6 L558.6,300.5 L555.6,301.3Z M585.5,300.7 L588.6,299.8 L591.6,298.9 L594.7,297.8 L596.9,297.0 L594.5,290.2 L592.3,290.9 L589.4,291.9 L586.4,292.8 L583.5,293.6Z M664.0,279.8 L667.0,279.1 L670.0,278.4 L673.0,277.6 L675.2,277.1 L673.4,269.8 L671.2,270.4 L668.2,271.1 L665.2,271.8 L662.2,272.5Z M692.4,272.7 L695.4,271.9 L698.4,271.0 L701.5,270.1 L703.7,269.3 L701.5,262.4 L699.3,263.1 L696.4,263.9 L693.4,264.8 L690.4,265.6Z M770.1,253.6 L773.1,253.0 L776.1,252.4 L779.1,251.8 L781.3,251.4 L779.9,244.0 L777.7,244.4 L774.7,245.0 L771.7,245.6 L768.7,246.1Z M798.9,248.0 L801.9,247.5 L804.9,246.9 L807.9,246.3 L810.1,245.9 L808.7,238.5 L806.5,238.9 L803.5,239.5 L800.5,240.0 L797.5,240.6Z M876.8,234.5 L879.7,233.9 L882.6,233.5 L885.6,233.2 L887.7,232.9 L886.9,225.3 L884.6,225.6 L881.6,226.0 L878.5,226.5 L875.4,227.0Z M905.0,231.2 L908.1,230.8 L911.2,230.4 L914.4,229.7 L916.7,229.2 L914.9,221.9 L912.8,222.4 L910.0,222.9 L907.1,223.3 L904.2,223.6Z M983.5,216.6 L986.5,216.1 L989.5,215.6 L992.5,215.1 L994.6,214.8 L993.6,207.3 L991.3,207.6 L988.3,208.1 L985.3,208.6 L982.3,209.1Z M1011.6,212.5 L1014.6,212.0 L1017.6,211.5 L1020.7,210.9 L1023.0,210.4 L1021.4,203.0 L1019.3,203.5 L1016.4,204.0 L1013.4,204.5 L1010.4,204.9Z M1090.4,201.3 L1093.4,200.9 L1096.4,200.5 L1099.5,200.0 L1101.7,199.7 L1100.5,192.2 L1098.3,192.5 L1095.4,192.9 L1092.4,193.3 L1089.4,193.7Z M1115.3,197.5 L1118.2,197.1 L1121.1,196.9 L1124.0,196.7 L1126.2,196.6 L1125.8,188.9 L1123.6,189.0 L1120.5,189.2 L1117.4,189.5 L1114.3,189.9Z M1192.7,190.3 L1195.7,190.0 L1198.7,189.7 L1201.7,189.4 L1203.9,189.2 L1203.1,181.5 L1200.9,181.8 L1197.9,182.0 L1194.9,182.3 L1191.9,182.7Z M1220.4,187.7 L1223.4,187.4 L1226.4,187.1 L1229.4,186.8 L1231.6,186.6 L1230.8,179.0 L1228.6,179.2 L1225.6,179.5 L1222.6,179.7 L1219.6,180.0Z M1299.1,180.5 L1302.1,180.3 L1305.1,180.1 L1308.2,179.8 L1310.5,179.5 L1309.5,171.9 L1307.4,172.2 L1304.5,172.4 L1301.5,172.7 L1298.5,172.9Z M1327.9,177.1 L1330.8,176.9 L1333.7,176.8 L1336.6,176.8 L1338.8,176.8 L1338.8,169.1 L1336.6,169.1 L1333.5,169.1 L1330.4,169.3 L1327.3,169.5Z M1403.0,173.6 L1406.0,173.5 L1408.9,173.5 L1411.9,173.5 L1412.0,173.4 L1412.0,165.8 L1411.9,165.8 L1408.9,165.8 L1405.8,165.8 L1402.8,165.9Z"/>
<g fill="#000">
<rect x="165" y="46.8" width="1359.2" height="7.6"/>
<rect x="165" y="1026.4" width="1359.2" height="7.6"/>
<rect x="184.9" y="46.8" width="7.6" height="997.2"/>
<rect x="190.4" y="54.4" width="2.4" height="972.0" fill="#8a8a8a"/>
<rect x="190.4" y="1034.0" width="2.4" height="10.0" fill="#8a8a8a"/>
<rect x="1516.6" y="46.8" width="7.6" height="997.2"/>
<rect x="174.3" y="972.0" width="12" height="7.6"/>
<rect x="165" y="917.6" width="22" height="7.6"/>
<rect x="174.3" y="863.1" width="12" height="7.6"/>
<rect x="165" y="808.7" width="22" height="7.6"/>
<rect x="174.3" y="754.3" width="12" height="7.6"/>
<rect x="165" y="699.9" width="22" height="7.6"/>
<rect x="174.3" y="645.4" width="12" height="7.6"/>
<rect x="165" y="591.0" width="22" height="7.6"/>
<rect x="174.3" y="536.6" width="12" height="7.6"/>
<rect x="165" y="482.2" width="22" height="7.6"/>
<rect x="174.3" y="427.8" width="12" height="7.6"/>
<rect x="165" y="373.3" width="22" height="7.6"/>
<rect x="174.3" y="318.9" width="12" height="7.6"/>
<rect x="165" y="264.5" width="22" height="7.6"/>
<rect x="174.3" y="210.1" width="12" height="7.6"/>
<rect x="165" y="155.6" width="22" height="7.6"/>
<rect x="174.3" y="101.2" width="12" height="7.6"/>
<rect x="295.9" y="1030.2" width="6.4" height="22.8"/>
<rect x="406.8" y="1030.2" width="6.4" height="13.6"/>
<rect x="517.7" y="1030.2" width="6.4" height="22.8"/>
<rect x="628.6" y="1030.2" width="6.4" height="13.6"/>
<rect x="739.5" y="1030.2" width="6.4" height="22.8"/>
<rect x="850.4" y="1030.2" width="6.4" height="13.6"/>
<rect x="961.2" y="1030.2" width="6.4" height="22.8"/>
<rect x="1072.1" y="1030.2" width="6.4" height="13.6"/>
<rect x="1183.0" y="1030.2" width="6.4" height="22.8"/>
<rect x="1293.9" y="1030.2" width="6.4" height="13.6"/>
<rect x="1404.8" y="1030.2" width="6.4" height="22.8"/>
</g>
<g fill="none" stroke-width="8.2">
<path stroke="#000000" d="M672.5,651.7 H807.3"/>
<path stroke="#ff0000" d="M672.5,728 H807.3"/>
<path stroke="#0000ff" d="M672.5,804 H807.3"/>
<path stroke="#ff00ff" d="M672.9,880.2 H705.6 M722,880.2 H733.6 M749.6,880.2 H762.6 M779,880.2 H807.3"/>
</g>
<text x="153.6" y="1044.6" font-size="57.6" text-anchor="end" letter-spacing="-1.2">0</text>
<text x="153.6" y="935.8" font-size="57.6" text-anchor="end" letter-spacing="-1.2">10</text>
<text x="153.6" y="826.9" font-size="57.6" text-anchor="end" letter-spacing="-1.2">20</text>
<text x="153.6" y="718.1" font-size="57.6" text-anchor="end" letter-spacing="-1.2">30</text>
<text x="153.6" y="609.2" font-size="57.6" text-anchor="end" letter-spacing="-1.2">40</text>
<text x="153.6" y="500.4" font-size="57.6" text-anchor="end" letter-spacing="-1.2">50</text>
<text x="153.6" y="391.5" font-size="57.6" text-anchor="end" letter-spacing="-1.2">60</text>
<text x="153.6" y="282.7" font-size="57.6" text-anchor="end" letter-spacing="-1.2">70</text>
<text x="153.6" y="173.8" font-size="57.6" text-anchor="end" letter-spacing="-1.2">80</text>
<text x="153.6" y="65.0" font-size="57.6" text-anchor="end" letter-spacing="-1.2">90</text>
<text x="298.9" y="1108.3" font-size="57.6" text-anchor="middle" letter-spacing="-0.9">300</text>
<text x="520.7" y="1108.3" font-size="57.6" text-anchor="middle" letter-spacing="-0.9">400</text>
<text x="742.5" y="1108.3" font-size="57.6" text-anchor="middle" letter-spacing="-0.9">500</text>
<text x="964.2" y="1108.3" font-size="57.6" text-anchor="middle" letter-spacing="-0.9">600</text>
<text x="1186.0" y="1108.3" font-size="57.6" text-anchor="middle" letter-spacing="-0.9">700</text>
<text x="1407.8" y="1108.3" font-size="57.6" text-anchor="middle" letter-spacing="-0.9">800</text>
<text x="629" y="1159.3" font-size="57.5" letter-spacing="-0.4">Wavelength <tspan x="959.6" font-size="44.7">(</tspan><tspan x="977.2 1010.3">nm</tspan><tspan x="1061.3" font-size="44.7">)</tspan></text>
<text transform="translate(85.5,586.1) rotate(-90) scale(0.95,1.085)" font-size="58" text-anchor="start">T <tspan dx="2.8" textLength="49.1" lengthAdjust="spacingAndGlyphs">%</tspan></text>
<text x="821.2" y="671.6" font-size="60.4" style="font-kerning:none">PLLA film</text>
<text x="821.2" y="745.8" font-size="60.4" style="font-kerning:none">PLLA/DPD film</text>
<text x="821.2" y="822" font-size="60.4" style="font-kerning:none">PLLA/DPD/PEG film</text>
<text x="821.2" y="898.1" font-size="60.4" style="font-kerning:none">PE film</text>
</g>
</svg></body></html>
